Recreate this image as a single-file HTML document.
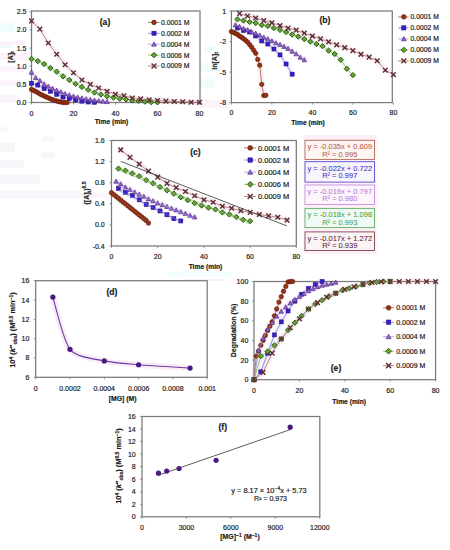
<!DOCTYPE html>
<html><head><meta charset="utf-8"><style>
html,body{margin:0;padding:0;background:#fff;}
svg{display:block;font-family:"Liberation Sans", sans-serif;}
</style></head><body>
<svg width="450" height="550" viewBox="0 0 450 550">
<rect width="450" height="550" fill="#fff"/>
<rect x="183" y="279" width="42" height="2" fill="#fbe6f4" opacity="0.55"/>
<rect x="168" y="272" width="64" height="4.5" fill="#e8fbfb" opacity="0.55"/>
<rect x="41" y="152" width="14" height="7" fill="#f4f0f6" opacity="0.55"/>
<rect x="43" y="136" width="12" height="6" fill="#f4f0f6" opacity="0.55"/>
<rect x="80" y="193" width="30" height="5" fill="#fbecf5" opacity="0.55"/>
<rect x="0" y="191" width="80" height="8" fill="#eef2f7" opacity="0.55"/>
<rect x="0" y="175" width="40" height="9" fill="#f0eff7" opacity="0.55"/>
<rect x="0" y="160" width="24" height="8" fill="#f2eff7" opacity="0.55"/>
<rect x="0" y="143" width="15" height="9" fill="#f4eef6" opacity="0.55"/>
<rect x="0" y="125" width="8" height="7" fill="#f0f4f8" opacity="0.55"/>
<rect x="200" y="100" width="30" height="8" fill="#fbeaf5" opacity="0.55"/>
<rect x="200" y="79" width="15" height="9" fill="#e6fafa" opacity="0.55"/>
<rect x="200" y="63" width="20" height="9" fill="#e6fafa" opacity="0.55"/>
<rect x="203" y="47" width="15" height="5" fill="#e4f9f9" opacity="0.55"/>
<rect x="0" y="95" width="20" height="8" fill="#fbeaf5" opacity="0.55"/>
<rect x="0" y="80" width="22" height="6" fill="#fbeaf5" opacity="0.55"/>
<rect x="0" y="66" width="24" height="6" fill="#fbeaf5" opacity="0.55"/>
<rect x="0" y="53" width="28" height="7" fill="#fbe8f4" opacity="0.55"/>
<rect x="0" y="45" width="12" height="3" fill="#dff8f8" opacity="0.55"/>
<rect x="0" y="41" width="25" height="4" fill="#fbe4f3" opacity="0.55"/>
<rect x="0" y="23" width="15" height="9" fill="#e6fafa" opacity="0.55"/>
<path d="M31.50,89.41 L33.60,90.42 L35.70,91.57 L37.80,92.61 L39.90,93.99 L42.00,95.02 L44.10,96.00 L46.20,96.96 L48.30,97.83 L50.40,98.86 L52.50,99.67 L54.60,100.40 L56.70,100.94 L58.80,101.65 L60.90,102.02 L63.00,102.43 L65.10,102.48 L67.20,102.47" fill="none" stroke="#f8e0ee" stroke-width="6" stroke-linejoin="round" stroke-linecap="round" opacity="0.5"/>
<path d="M31.50,83.26 L37.80,85.08 L44.10,88.71 L50.40,91.25 L56.70,94.33 L63.00,97.06 L69.30,98.58 L75.60,99.96 L81.90,101.16 L88.20,101.99 L94.50,102.30" fill="none" stroke="#ece6fa" stroke-width="6" stroke-linejoin="round" stroke-linecap="round" opacity="0.5"/>
<path d="M31.50,72.37 L35.70,77.82 L39.90,80.72 L44.10,83.99 L48.30,86.35 L52.50,88.52 L56.70,90.34 L60.90,91.97 L65.10,93.79 L69.30,95.06 L73.50,96.33 L77.70,97.27 L81.90,98.14 L86.10,98.98 L90.30,99.63 L94.50,100.29 L98.70,100.83 L102.90,101.34 L107.10,101.70" fill="none" stroke="#f4e4f6" stroke-width="6" stroke-linejoin="round" stroke-linecap="round" opacity="0.5"/>
<path d="M31.50,58.94 L37.80,61.12 L44.10,64.02 L50.40,68.02 L56.70,71.65 L63.00,76.36 L69.30,79.99 L75.60,83.81 L81.90,86.89 L88.20,89.80 L94.50,92.52 L100.80,94.51 L107.10,96.33 L113.40,97.60 L119.70,98.65 L126.00,99.38 L132.30,100.47 L138.60,101.05 L144.90,101.67 L151.20,102.16 L157.50,102.32" fill="none" stroke="#e4f6f0" stroke-width="6" stroke-linejoin="round" stroke-linecap="round" opacity="0.5"/>
<path d="M31.50,20.83 L39.90,29.17 L48.30,42.97 L56.70,54.22 L65.10,64.75 L73.50,72.73 L81.90,79.99 L90.30,84.35 L98.70,87.98 L107.10,91.43 L115.50,94.33 L123.90,95.78 L132.30,97.96 L140.70,98.87 L149.10,99.89 L157.50,100.47 L165.90,101.08 L174.30,101.45 L182.70,101.74 L191.10,102.21 L199.50,102.32" fill="none" stroke="#f8e4ee" stroke-width="6" stroke-linejoin="round" stroke-linecap="round" opacity="0.5"/>
<path d="M231.40,31.58 L233.43,32.40 L235.45,33.42 L237.47,34.44 L239.50,35.97 L241.53,37.29 L243.55,38.72 L245.58,40.35 L247.60,42.08 L249.62,44.63 L251.65,47.17 L253.68,50.23 L255.70,53.29 L257.73,59.40 L259.75,65.21 L261.77,84.37 L263.80,95.58 L265.82,95.27" fill="none" stroke="#f8e0ee" stroke-width="6" stroke-linejoin="round" stroke-linecap="round" opacity="0.5"/>
<path d="M237.47,28.02 L243.55,30.56 L249.62,31.99 L255.70,35.97 L261.77,40.96 L267.85,44.02 L273.93,49.01 L280.00,54.92 L286.07,63.99 L292.15,74.18" fill="none" stroke="#ece6fa" stroke-width="6" stroke-linejoin="round" stroke-linecap="round" opacity="0.5"/>
<path d="M235.45,24.96 L239.50,26.59 L243.55,28.63 L247.60,29.95 L251.65,31.99 L255.70,33.42 L259.75,35.35 L263.80,37.39 L267.85,39.02 L271.90,40.96 L275.95,43.00 L280.00,44.63 L284.05,46.56 L288.10,48.60 L292.15,51.35 L296.20,54.00 L300.25,57.36 L304.30,59.91" fill="none" stroke="#f4e4f6" stroke-width="6" stroke-linejoin="round" stroke-linecap="round" opacity="0.5"/>
<path d="M237.47,19.36 L243.55,20.58 L249.62,22.01 L255.70,23.02 L261.77,24.96 L267.85,25.98 L273.93,28.02 L280.00,29.95 L286.07,31.99 L292.15,34.54 L298.23,36.58 L304.30,39.02 L310.38,41.57 L316.45,44.02 L322.52,46.16 L328.60,50.64 L334.68,54.00 L340.75,59.81 L346.82,68.78 L352.90,75.10" fill="none" stroke="#e4f6f0" stroke-width="6" stroke-linejoin="round" stroke-linecap="round" opacity="0.5"/>
<path d="M239.50,13.65 L247.60,15.99 L255.70,18.03 L263.80,20.58 L271.90,22.82 L280.00,25.57 L288.10,28.12 L296.20,30.16 L304.30,33.11 L312.40,36.07 L320.50,38.92 L328.60,41.88 L336.70,44.83 L344.80,47.68 L352.90,50.64 L361.00,54.31 L369.10,57.16 L377.20,60.73 L385.30,70.20 L393.40,74.59" fill="none" stroke="#f8e4ee" stroke-width="6" stroke-linejoin="round" stroke-linecap="round" opacity="0.5"/>
<path d="M111.50,192.78 L113.81,194.62 L116.12,196.47 L118.43,198.31 L120.74,200.16 L123.05,202.01 L125.36,203.85 L127.67,205.70 L129.98,207.55 L132.29,209.39 L134.60,211.24 L136.91,213.08 L139.22,214.93 L141.53,216.78 L143.84,218.62 L146.15,220.47 L148.46,223.05" fill="none" stroke="#f8e0ee" stroke-width="6" stroke-linejoin="round" stroke-linecap="round" opacity="0.5"/>
<path d="M118.43,188.35 L125.36,192.38 L132.29,195.53 L139.22,199.88 L146.15,204.47 L153.08,207.56 L160.01,210.94 L166.94,214.75 L173.87,218.66 L180.80,220.95" fill="none" stroke="#ece6fa" stroke-width="6" stroke-linejoin="round" stroke-linecap="round" opacity="0.5"/>
<path d="M116.12,181.40 L120.74,184.04 L125.36,187.23 L129.98,189.71 L134.60,192.17 L139.22,194.37 L143.84,196.49 L148.46,199.06 L153.08,201.02 L157.70,203.15 L162.32,204.88 L166.94,206.63 L171.56,208.47 L176.18,210.07 L180.80,211.87 L185.42,213.59 L190.04,215.46 L194.66,217.08" fill="none" stroke="#f4e4f6" stroke-width="6" stroke-linejoin="round" stroke-linecap="round" opacity="0.5"/>
<path d="M118.43,168.58 L125.36,170.59 L132.29,173.49 L139.22,176.27 L146.15,180.14 L153.08,183.36 L160.01,187.04 L166.94,190.31 L173.87,193.69 L180.80,197.24 L187.73,200.16 L194.66,203.15 L201.59,205.52 L208.52,207.73 L215.45,209.43 L222.38,212.42 L229.31,214.35 L236.24,216.90 L243.17,219.79 L250.10,221.17" fill="none" stroke="#e4f6f0" stroke-width="6" stroke-linejoin="round" stroke-linecap="round" opacity="0.5"/>
<path d="M120.74,149.93 L129.98,157.35 L139.22,164.07 L148.46,171.11 L157.70,177.13 L166.94,183.36 L176.18,187.60 L185.42,191.54 L194.66,195.77 L203.90,199.88 L213.14,202.21 L222.38,206.25 L231.62,208.22 L240.86,210.75 L250.10,212.42 L259.34,214.48 L268.58,215.92 L277.82,217.26 L287.06,220.18" fill="none" stroke="#f8e4ee" stroke-width="6" stroke-linejoin="round" stroke-linecap="round" opacity="0.5"/>
<path d="M52.85,297.12 C55.14,304.08 63.14,340.79 70.00,349.29 C76.86,357.79 95.15,358.82 104.30,360.88 C113.45,362.94 127.17,363.78 138.60,364.74 C150.03,365.71 183.19,367.67 190.05,368.12" fill="none" stroke="#f8e4f4" stroke-width="6" stroke-linecap="round" opacity="0.7"/>
<path d="M254.00,379.70 L256.27,356.13 L258.54,351.22 L260.81,345.33 L263.08,340.42 L265.35,335.51 L267.62,330.60 L269.89,326.18 L272.16,321.76 L274.43,315.87 L276.70,309.00 L278.97,302.12 L281.24,296.72 L283.51,291.32 L285.78,286.41 L288.05,281.99 L290.32,281.50 L292.59,281.50" fill="none" stroke="#f8e0ee" stroke-width="6" stroke-linejoin="round" stroke-linecap="round" opacity="0.5"/>
<path d="M254.00,379.70 L260.81,371.84 L267.62,353.19 L274.43,334.92 L281.24,321.86 L288.05,310.96 L294.86,301.14 L301.67,294.27 L308.48,288.37 L315.29,284.45 L322.10,281.50" fill="none" stroke="#ece6fa" stroke-width="6" stroke-linejoin="round" stroke-linecap="round" opacity="0.5"/>
<path d="M254.00,379.70 L258.54,350.24 L263.08,338.46 L267.62,329.62 L272.16,322.74 L276.70,316.36 L281.24,311.45 L285.78,307.03 L290.32,303.10 L294.86,299.67 L299.40,296.72 L303.94,293.77 L308.48,290.83 L313.02,288.87 L317.56,286.90 L322.10,285.43 L326.64,284.45 L331.18,283.46 L335.72,282.48" fill="none" stroke="#f4e4f6" stroke-width="6" stroke-linejoin="round" stroke-linecap="round" opacity="0.5"/>
<path d="M254.00,379.70 L260.81,356.13 L267.62,351.52 L274.43,345.33 L281.24,338.95 L288.05,330.11 L294.86,322.74 L301.67,315.87 L308.48,309.00 L315.29,304.09 L322.10,300.16 L328.91,296.23 L335.72,293.28 L342.53,290.34 L349.34,288.37 L356.15,286.41 L362.96,284.45 L369.77,282.97 L376.58,281.99 L383.39,281.50 L390.20,281.50" fill="none" stroke="#e4f6f0" stroke-width="6" stroke-linejoin="round" stroke-linecap="round" opacity="0.5"/>
<path d="M254.00,379.70 L263.08,372.33 L272.16,353.19 L281.24,338.95 L290.32,327.65 L299.40,318.82 L308.48,309.00 L317.56,302.61 L326.64,297.21 L335.72,293.28 L344.80,289.36 L353.88,286.90 L362.96,284.45 L372.04,282.48 L381.12,281.79 L390.20,281.50 L399.28,281.50 L408.36,281.50 L417.44,281.50 L426.52,281.50 L435.60,281.50" fill="none" stroke="#f8e4ee" stroke-width="6" stroke-linejoin="round" stroke-linecap="round" opacity="0.5"/>
<rect x="31.50" y="11.00" width="168.50" height="91.50" fill="none" stroke="#7a7a7a" stroke-width="1.25"/>
<line x1="29.50" y1="102.50" x2="31.50" y2="102.50" stroke="#7a7a7a" stroke-width="0.8"/>
<text x="26.50" y="105.00" font-size="7" text-anchor="end" font-weight="normal" fill="#1a1a1a" stroke="#1a1a1a" stroke-width="0.18" >0.0</text>
<line x1="29.50" y1="84.35" x2="31.50" y2="84.35" stroke="#7a7a7a" stroke-width="0.8"/>
<text x="26.50" y="86.85" font-size="7" text-anchor="end" font-weight="normal" fill="#1a1a1a" stroke="#1a1a1a" stroke-width="0.18" >0.5</text>
<line x1="29.50" y1="66.20" x2="31.50" y2="66.20" stroke="#7a7a7a" stroke-width="0.8"/>
<text x="26.50" y="68.70" font-size="7" text-anchor="end" font-weight="normal" fill="#1a1a1a" stroke="#1a1a1a" stroke-width="0.18" >1.0</text>
<line x1="29.50" y1="48.05" x2="31.50" y2="48.05" stroke="#7a7a7a" stroke-width="0.8"/>
<text x="26.50" y="50.55" font-size="7" text-anchor="end" font-weight="normal" fill="#1a1a1a" stroke="#1a1a1a" stroke-width="0.18" >1.5</text>
<line x1="29.50" y1="29.90" x2="31.50" y2="29.90" stroke="#7a7a7a" stroke-width="0.8"/>
<text x="26.50" y="32.40" font-size="7" text-anchor="end" font-weight="normal" fill="#1a1a1a" stroke="#1a1a1a" stroke-width="0.18" >2.0</text>
<line x1="29.50" y1="11.75" x2="31.50" y2="11.75" stroke="#7a7a7a" stroke-width="0.8"/>
<text x="26.50" y="14.25" font-size="7" text-anchor="end" font-weight="normal" fill="#1a1a1a" stroke="#1a1a1a" stroke-width="0.18" >2.5</text>
<line x1="31.50" y1="102.50" x2="31.50" y2="104.50" stroke="#7a7a7a" stroke-width="0.8"/>
<text x="31.50" y="115.90" font-size="7" text-anchor="middle" font-weight="normal" fill="#1a1a1a" stroke="#1a1a1a" stroke-width="0.18" >0</text>
<line x1="73.50" y1="102.50" x2="73.50" y2="104.50" stroke="#7a7a7a" stroke-width="0.8"/>
<text x="73.50" y="115.90" font-size="7" text-anchor="middle" font-weight="normal" fill="#1a1a1a" stroke="#1a1a1a" stroke-width="0.18" >20</text>
<line x1="115.50" y1="102.50" x2="115.50" y2="104.50" stroke="#7a7a7a" stroke-width="0.8"/>
<text x="115.50" y="115.90" font-size="7" text-anchor="middle" font-weight="normal" fill="#1a1a1a" stroke="#1a1a1a" stroke-width="0.18" >40</text>
<line x1="157.50" y1="102.50" x2="157.50" y2="104.50" stroke="#7a7a7a" stroke-width="0.8"/>
<text x="157.50" y="115.90" font-size="7" text-anchor="middle" font-weight="normal" fill="#1a1a1a" stroke="#1a1a1a" stroke-width="0.18" >60</text>
<line x1="199.50" y1="102.50" x2="199.50" y2="104.50" stroke="#7a7a7a" stroke-width="0.8"/>
<text x="199.50" y="115.90" font-size="7" text-anchor="middle" font-weight="normal" fill="#1a1a1a" stroke="#1a1a1a" stroke-width="0.18" >80</text>
<text x="111.50" y="124.30" font-size="6.7" text-anchor="middle" font-weight="bold" fill="#1a1a1a" stroke="#1a1a1a" stroke-width="0.18" >Time (min)</text>
<text x="0" y="0" transform="translate(12.80,57.00) rotate(-90)" font-size="7" text-anchor="middle" font-weight="bold" fill="#1a1a1a" stroke="#1a1a1a" stroke-width="0.18">[A]<tspan font-size="5" dy="1.5">t</tspan></text>
<text x="105.00" y="24.80" font-size="8.6" text-anchor="middle" font-weight="bold" fill="#1a1a1a" stroke="#1a1a1a" stroke-width="0.18" >(a)</text>
<path d="M31.50,89.41 L33.60,90.42 L35.70,91.57 L37.80,92.61 L39.90,93.99 L42.00,95.02 L44.10,96.00 L46.20,96.96 L48.30,97.83 L50.40,98.86 L52.50,99.67 L54.60,100.40 L56.70,100.94 L58.80,101.65 L60.90,102.02 L63.00,102.43 L65.10,102.48 L67.20,102.47" fill="none" stroke="#9a6040" stroke-width="0.8"/>
<circle cx="31.50" cy="89.41" r="2.20" fill="#9a3214" stroke="#581a08" stroke-width="0.6"/>
<circle cx="33.60" cy="90.42" r="2.20" fill="#9a3214" stroke="#581a08" stroke-width="0.6"/>
<circle cx="35.70" cy="91.57" r="2.20" fill="#9a3214" stroke="#581a08" stroke-width="0.6"/>
<circle cx="37.80" cy="92.61" r="2.20" fill="#9a3214" stroke="#581a08" stroke-width="0.6"/>
<circle cx="39.90" cy="93.99" r="2.20" fill="#9a3214" stroke="#581a08" stroke-width="0.6"/>
<circle cx="42.00" cy="95.02" r="2.20" fill="#9a3214" stroke="#581a08" stroke-width="0.6"/>
<circle cx="44.10" cy="96.00" r="2.20" fill="#9a3214" stroke="#581a08" stroke-width="0.6"/>
<circle cx="46.20" cy="96.96" r="2.20" fill="#9a3214" stroke="#581a08" stroke-width="0.6"/>
<circle cx="48.30" cy="97.83" r="2.20" fill="#9a3214" stroke="#581a08" stroke-width="0.6"/>
<circle cx="50.40" cy="98.86" r="2.20" fill="#9a3214" stroke="#581a08" stroke-width="0.6"/>
<circle cx="52.50" cy="99.67" r="2.20" fill="#9a3214" stroke="#581a08" stroke-width="0.6"/>
<circle cx="54.60" cy="100.40" r="2.20" fill="#9a3214" stroke="#581a08" stroke-width="0.6"/>
<circle cx="56.70" cy="100.94" r="2.20" fill="#9a3214" stroke="#581a08" stroke-width="0.6"/>
<circle cx="58.80" cy="101.65" r="2.20" fill="#9a3214" stroke="#581a08" stroke-width="0.6"/>
<circle cx="60.90" cy="102.02" r="2.20" fill="#9a3214" stroke="#581a08" stroke-width="0.6"/>
<circle cx="63.00" cy="102.43" r="2.20" fill="#9a3214" stroke="#581a08" stroke-width="0.6"/>
<circle cx="65.10" cy="102.48" r="2.20" fill="#9a3214" stroke="#581a08" stroke-width="0.6"/>
<circle cx="67.20" cy="102.47" r="2.20" fill="#9a3214" stroke="#581a08" stroke-width="0.6"/>
<path d="M31.50,83.26 L37.80,85.08 L44.10,88.71 L50.40,91.25 L56.70,94.33 L63.00,97.06 L69.30,98.58 L75.60,99.96 L81.90,101.16 L88.20,101.99 L94.50,102.30" fill="none" stroke="#7a70e0" stroke-width="0.8"/>
<rect x="29.48" y="81.24" width="4.05" height="4.05" fill="#3a1ec8" stroke="#1e0c80" stroke-width="0.5"/>
<rect x="35.78" y="83.05" width="4.05" height="4.05" fill="#3a1ec8" stroke="#1e0c80" stroke-width="0.5"/>
<rect x="42.08" y="86.68" width="4.05" height="4.05" fill="#3a1ec8" stroke="#1e0c80" stroke-width="0.5"/>
<rect x="48.38" y="89.22" width="4.05" height="4.05" fill="#3a1ec8" stroke="#1e0c80" stroke-width="0.5"/>
<rect x="54.68" y="92.31" width="4.05" height="4.05" fill="#3a1ec8" stroke="#1e0c80" stroke-width="0.5"/>
<rect x="60.98" y="95.03" width="4.05" height="4.05" fill="#3a1ec8" stroke="#1e0c80" stroke-width="0.5"/>
<rect x="67.28" y="96.56" width="4.05" height="4.05" fill="#3a1ec8" stroke="#1e0c80" stroke-width="0.5"/>
<rect x="73.58" y="97.94" width="4.05" height="4.05" fill="#3a1ec8" stroke="#1e0c80" stroke-width="0.5"/>
<rect x="79.88" y="99.13" width="4.05" height="4.05" fill="#3a1ec8" stroke="#1e0c80" stroke-width="0.5"/>
<rect x="86.18" y="99.97" width="4.05" height="4.05" fill="#3a1ec8" stroke="#1e0c80" stroke-width="0.5"/>
<rect x="92.48" y="100.27" width="4.05" height="4.05" fill="#3a1ec8" stroke="#1e0c80" stroke-width="0.5"/>
<path d="M31.50,72.37 L35.70,77.82 L39.90,80.72 L44.10,83.99 L48.30,86.35 L52.50,88.52 L56.70,90.34 L60.90,91.97 L65.10,93.79 L69.30,95.06 L73.50,96.33 L77.70,97.27 L81.90,98.14 L86.10,98.98 L90.30,99.63 L94.50,100.29 L98.70,100.83 L102.90,101.34 L107.10,101.70" fill="none" stroke="#a890d8" stroke-width="0.8"/>
<polygon points="31.50,70.06 33.81,74.22 29.19,74.22" fill="#9068cc" stroke="#44207a" stroke-width="0.6"/>
<polygon points="35.70,75.51 38.01,79.66 33.39,79.66" fill="#9068cc" stroke="#44207a" stroke-width="0.6"/>
<polygon points="39.90,78.41 42.21,82.57 37.59,82.57" fill="#9068cc" stroke="#44207a" stroke-width="0.6"/>
<polygon points="44.10,81.68 46.41,85.83 41.79,85.83" fill="#9068cc" stroke="#44207a" stroke-width="0.6"/>
<polygon points="48.30,84.04 50.61,88.19 45.99,88.19" fill="#9068cc" stroke="#44207a" stroke-width="0.6"/>
<polygon points="52.50,86.21 54.81,90.37 50.19,90.37" fill="#9068cc" stroke="#44207a" stroke-width="0.6"/>
<polygon points="56.70,88.03 59.01,92.19 54.39,92.19" fill="#9068cc" stroke="#44207a" stroke-width="0.6"/>
<polygon points="60.90,89.66 63.21,93.82 58.59,93.82" fill="#9068cc" stroke="#44207a" stroke-width="0.6"/>
<polygon points="65.10,91.48 67.41,95.64 62.79,95.64" fill="#9068cc" stroke="#44207a" stroke-width="0.6"/>
<polygon points="69.30,92.75 71.61,96.91 66.99,96.91" fill="#9068cc" stroke="#44207a" stroke-width="0.6"/>
<polygon points="73.50,94.02 75.81,98.18 71.19,98.18" fill="#9068cc" stroke="#44207a" stroke-width="0.6"/>
<polygon points="77.70,94.96 80.01,99.12 75.39,99.12" fill="#9068cc" stroke="#44207a" stroke-width="0.6"/>
<polygon points="81.90,95.83 84.21,99.99 79.59,99.99" fill="#9068cc" stroke="#44207a" stroke-width="0.6"/>
<polygon points="86.10,96.67 88.41,100.83 83.79,100.83" fill="#9068cc" stroke="#44207a" stroke-width="0.6"/>
<polygon points="90.30,97.32 92.61,101.48 87.99,101.48" fill="#9068cc" stroke="#44207a" stroke-width="0.6"/>
<polygon points="94.50,97.98 96.81,102.13 92.19,102.13" fill="#9068cc" stroke="#44207a" stroke-width="0.6"/>
<polygon points="98.70,98.52 101.01,102.68 96.39,102.68" fill="#9068cc" stroke="#44207a" stroke-width="0.6"/>
<polygon points="102.90,99.03 105.21,103.19 100.59,103.19" fill="#9068cc" stroke="#44207a" stroke-width="0.6"/>
<polygon points="107.10,99.39 109.41,103.55 104.79,103.55" fill="#9068cc" stroke="#44207a" stroke-width="0.6"/>
<path d="M31.50,58.94 L37.80,61.12 L44.10,64.02 L50.40,68.02 L56.70,71.65 L63.00,76.36 L69.30,79.99 L75.60,83.81 L81.90,86.89 L88.20,89.80 L94.50,92.52 L100.80,94.51 L107.10,96.33 L113.40,97.60 L119.70,98.65 L126.00,99.38 L132.30,100.47 L138.60,101.05 L144.90,101.67 L151.20,102.16 L157.50,102.32" fill="none" stroke="#80b050" stroke-width="0.8"/>
<polygon points="31.50,56.30 34.14,58.94 31.50,61.58 28.86,58.94" fill="#62a830" stroke="#2a4a10" stroke-width="0.9"/>
<polygon points="37.80,58.48 40.44,61.12 37.80,63.76 35.16,61.12" fill="#62a830" stroke="#2a4a10" stroke-width="0.9"/>
<polygon points="44.10,61.38 46.74,64.02 44.10,66.66 41.46,64.02" fill="#62a830" stroke="#2a4a10" stroke-width="0.9"/>
<polygon points="50.40,65.38 53.04,68.02 50.40,70.66 47.76,68.02" fill="#62a830" stroke="#2a4a10" stroke-width="0.9"/>
<polygon points="56.70,69.01 59.34,71.65 56.70,74.29 54.06,71.65" fill="#62a830" stroke="#2a4a10" stroke-width="0.9"/>
<polygon points="63.00,73.72 65.64,76.36 63.00,79.00 60.36,76.36" fill="#62a830" stroke="#2a4a10" stroke-width="0.9"/>
<polygon points="69.30,77.35 71.94,79.99 69.30,82.63 66.66,79.99" fill="#62a830" stroke="#2a4a10" stroke-width="0.9"/>
<polygon points="75.60,81.17 78.24,83.81 75.60,86.45 72.96,83.81" fill="#62a830" stroke="#2a4a10" stroke-width="0.9"/>
<polygon points="81.90,84.25 84.54,86.89 81.90,89.53 79.26,86.89" fill="#62a830" stroke="#2a4a10" stroke-width="0.9"/>
<polygon points="88.20,87.16 90.84,89.80 88.20,92.44 85.56,89.80" fill="#62a830" stroke="#2a4a10" stroke-width="0.9"/>
<polygon points="94.50,89.88 97.14,92.52 94.50,95.16 91.86,92.52" fill="#62a830" stroke="#2a4a10" stroke-width="0.9"/>
<polygon points="100.80,91.87 103.44,94.51 100.80,97.15 98.16,94.51" fill="#62a830" stroke="#2a4a10" stroke-width="0.9"/>
<polygon points="107.10,93.69 109.74,96.33 107.10,98.97 104.46,96.33" fill="#62a830" stroke="#2a4a10" stroke-width="0.9"/>
<polygon points="113.40,94.96 116.04,97.60 113.40,100.24 110.76,97.60" fill="#62a830" stroke="#2a4a10" stroke-width="0.9"/>
<polygon points="119.70,96.01 122.34,98.65 119.70,101.29 117.06,98.65" fill="#62a830" stroke="#2a4a10" stroke-width="0.9"/>
<polygon points="126.00,96.74 128.64,99.38 126.00,102.02 123.36,99.38" fill="#62a830" stroke="#2a4a10" stroke-width="0.9"/>
<polygon points="132.30,97.83 134.94,100.47 132.30,103.11 129.66,100.47" fill="#62a830" stroke="#2a4a10" stroke-width="0.9"/>
<polygon points="138.60,98.41 141.24,101.05 138.60,103.69 135.96,101.05" fill="#62a830" stroke="#2a4a10" stroke-width="0.9"/>
<polygon points="144.90,99.03 147.54,101.67 144.90,104.31 142.26,101.67" fill="#62a830" stroke="#2a4a10" stroke-width="0.9"/>
<polygon points="151.20,99.52 153.84,102.16 151.20,104.80 148.56,102.16" fill="#62a830" stroke="#2a4a10" stroke-width="0.9"/>
<polygon points="157.50,99.68 160.14,102.32 157.50,104.96 154.86,102.32" fill="#62a830" stroke="#2a4a10" stroke-width="0.9"/>
<path d="M31.50,20.83 L39.90,29.17 L48.30,42.97 L56.70,54.22 L65.10,64.75 L73.50,72.73 L81.90,79.99 L90.30,84.35 L98.70,87.98 L107.10,91.43 L115.50,94.33 L123.90,95.78 L132.30,97.96 L140.70,98.87 L149.10,99.89 L157.50,100.47 L165.90,101.08 L174.30,101.45 L182.70,101.74 L191.10,102.21 L199.50,102.32" fill="none" stroke="#a07070" stroke-width="0.8"/>
<path d="M29.19,18.52L33.81,23.14M33.81,18.52L29.19,23.14" stroke="#603030" stroke-width="1.45" fill="none"/>
<path d="M37.59,26.86L42.21,31.48M42.21,26.86L37.59,31.48" stroke="#603030" stroke-width="1.45" fill="none"/>
<path d="M45.99,40.66L50.61,45.28M50.61,40.66L45.99,45.28" stroke="#603030" stroke-width="1.45" fill="none"/>
<path d="M54.39,51.91L59.01,56.53M59.01,51.91L54.39,56.53" stroke="#603030" stroke-width="1.45" fill="none"/>
<path d="M62.79,62.44L67.41,67.06M67.41,62.44L62.79,67.06" stroke="#603030" stroke-width="1.45" fill="none"/>
<path d="M71.19,70.42L75.81,75.04M75.81,70.42L71.19,75.04" stroke="#603030" stroke-width="1.45" fill="none"/>
<path d="M79.59,77.68L84.21,82.30M84.21,77.68L79.59,82.30" stroke="#603030" stroke-width="1.45" fill="none"/>
<path d="M87.99,82.04L92.61,86.66M92.61,82.04L87.99,86.66" stroke="#603030" stroke-width="1.45" fill="none"/>
<path d="M96.39,85.67L101.01,90.29M101.01,85.67L96.39,90.29" stroke="#603030" stroke-width="1.45" fill="none"/>
<path d="M104.79,89.12L109.41,93.74M109.41,89.12L104.79,93.74" stroke="#603030" stroke-width="1.45" fill="none"/>
<path d="M113.19,92.02L117.81,96.64M117.81,92.02L113.19,96.64" stroke="#603030" stroke-width="1.45" fill="none"/>
<path d="M121.59,93.47L126.21,98.09M126.21,93.47L121.59,98.09" stroke="#603030" stroke-width="1.45" fill="none"/>
<path d="M129.99,95.65L134.61,100.27M134.61,95.65L129.99,100.27" stroke="#603030" stroke-width="1.45" fill="none"/>
<path d="M138.39,96.56L143.01,101.18M143.01,96.56L138.39,101.18" stroke="#603030" stroke-width="1.45" fill="none"/>
<path d="M146.79,97.58L151.41,102.20M151.41,97.58L146.79,102.20" stroke="#603030" stroke-width="1.45" fill="none"/>
<path d="M155.19,98.16L159.81,102.78M159.81,98.16L155.19,102.78" stroke="#603030" stroke-width="1.45" fill="none"/>
<path d="M163.59,98.77L168.21,103.39M168.21,98.77L163.59,103.39" stroke="#603030" stroke-width="1.45" fill="none"/>
<path d="M171.99,99.14L176.61,103.76M176.61,99.14L171.99,103.76" stroke="#603030" stroke-width="1.45" fill="none"/>
<path d="M180.39,99.43L185.01,104.05M185.01,99.43L180.39,104.05" stroke="#603030" stroke-width="1.45" fill="none"/>
<path d="M188.79,99.90L193.41,104.52M193.41,99.90L188.79,104.52" stroke="#603030" stroke-width="1.45" fill="none"/>
<path d="M197.19,100.01L201.81,104.63M201.81,100.01L197.19,104.63" stroke="#603030" stroke-width="1.45" fill="none"/>
<line x1="148.00" y1="22.40" x2="159.50" y2="22.40" stroke="#9a6040" stroke-width="0.8"/>
<circle cx="154.00" cy="22.40" r="2.30" fill="#9a3214" stroke="#581a08" stroke-width="0.6"/>
<text x="161.00" y="24.85" font-size="6.8" text-anchor="start" font-weight="normal" fill="#1a1a1a" stroke="#1a1a1a" stroke-width="0.18" >0.0001 M</text>
<line x1="148.00" y1="33.30" x2="159.50" y2="33.30" stroke="#7a70e0" stroke-width="0.8"/>
<rect x="151.88" y="31.18" width="4.23" height="4.23" fill="#3a1ec8" stroke="#1e0c80" stroke-width="0.5"/>
<text x="161.00" y="35.75" font-size="6.8" text-anchor="start" font-weight="normal" fill="#1a1a1a" stroke="#1a1a1a" stroke-width="0.18" >0.0002 M</text>
<line x1="148.00" y1="44.20" x2="159.50" y2="44.20" stroke="#a890d8" stroke-width="0.8"/>
<polygon points="154.00,41.79 156.41,46.13 151.59,46.13" fill="#9068cc" stroke="#44207a" stroke-width="0.6"/>
<text x="161.00" y="46.65" font-size="6.8" text-anchor="start" font-weight="normal" fill="#1a1a1a" stroke="#1a1a1a" stroke-width="0.18" >0.0004 M</text>
<line x1="148.00" y1="55.10" x2="159.50" y2="55.10" stroke="#80b050" stroke-width="0.8"/>
<polygon points="154.00,52.34 156.76,55.10 154.00,57.86 151.24,55.10" fill="#62a830" stroke="#2a4a10" stroke-width="0.9"/>
<text x="161.00" y="57.55" font-size="6.8" text-anchor="start" font-weight="normal" fill="#1a1a1a" stroke="#1a1a1a" stroke-width="0.18" >0.0006 M</text>
<line x1="148.00" y1="66.00" x2="159.50" y2="66.00" stroke="#a07070" stroke-width="0.8"/>
<path d="M151.59,63.59L156.41,68.42M156.41,63.59L151.59,68.42" stroke="#603030" stroke-width="1.45" fill="none"/>
<text x="161.00" y="68.45" font-size="6.8" text-anchor="start" font-weight="normal" fill="#1a1a1a" stroke="#1a1a1a" stroke-width="0.18" >0.0009 M</text>
<rect x="231.40" y="11.00" width="160.90" height="91.60" fill="none" stroke="#7a7a7a" stroke-width="1.25"/>
<line x1="229.40" y1="11.00" x2="231.40" y2="11.00" stroke="#7a7a7a" stroke-width="0.8"/>
<text x="226.10" y="13.50" font-size="7" text-anchor="end" font-weight="normal" fill="#1a1a1a" stroke="#1a1a1a" stroke-width="0.18" >1</text>
<line x1="229.40" y1="41.57" x2="231.40" y2="41.57" stroke="#7a7a7a" stroke-width="0.8"/>
<text x="226.10" y="44.07" font-size="7" text-anchor="end" font-weight="normal" fill="#1a1a1a" stroke="#1a1a1a" stroke-width="0.18" >-2</text>
<line x1="229.40" y1="72.14" x2="231.40" y2="72.14" stroke="#7a7a7a" stroke-width="0.8"/>
<text x="226.10" y="74.64" font-size="7" text-anchor="end" font-weight="normal" fill="#1a1a1a" stroke="#1a1a1a" stroke-width="0.18" >-5</text>
<line x1="229.40" y1="102.71" x2="231.40" y2="102.71" stroke="#7a7a7a" stroke-width="0.8"/>
<text x="226.10" y="105.21" font-size="7" text-anchor="end" font-weight="normal" fill="#1a1a1a" stroke="#1a1a1a" stroke-width="0.18" >-8</text>
<line x1="231.40" y1="102.60" x2="231.40" y2="104.60" stroke="#7a7a7a" stroke-width="0.8"/>
<text x="231.40" y="115.30" font-size="7" text-anchor="middle" font-weight="normal" fill="#1a1a1a" stroke="#1a1a1a" stroke-width="0.18" >0</text>
<line x1="271.90" y1="102.60" x2="271.90" y2="104.60" stroke="#7a7a7a" stroke-width="0.8"/>
<text x="271.90" y="115.30" font-size="7" text-anchor="middle" font-weight="normal" fill="#1a1a1a" stroke="#1a1a1a" stroke-width="0.18" >20</text>
<line x1="312.40" y1="102.60" x2="312.40" y2="104.60" stroke="#7a7a7a" stroke-width="0.8"/>
<text x="312.40" y="115.30" font-size="7" text-anchor="middle" font-weight="normal" fill="#1a1a1a" stroke="#1a1a1a" stroke-width="0.18" >40</text>
<line x1="352.90" y1="102.60" x2="352.90" y2="104.60" stroke="#7a7a7a" stroke-width="0.8"/>
<text x="352.90" y="115.30" font-size="7" text-anchor="middle" font-weight="normal" fill="#1a1a1a" stroke="#1a1a1a" stroke-width="0.18" >60</text>
<line x1="393.40" y1="102.60" x2="393.40" y2="104.60" stroke="#7a7a7a" stroke-width="0.8"/>
<text x="393.40" y="115.30" font-size="7" text-anchor="middle" font-weight="normal" fill="#1a1a1a" stroke="#1a1a1a" stroke-width="0.18" >80</text>
<text x="308.00" y="125.20" font-size="6.7" text-anchor="middle" font-weight="bold" fill="#1a1a1a" stroke="#1a1a1a" stroke-width="0.18" >Time (min)</text>
<text x="0" y="0" transform="translate(216.50,61.00) rotate(-90)" font-size="7" text-anchor="middle" font-weight="bold" fill="#1a1a1a" stroke="#1a1a1a" stroke-width="0.18">ln[A]<tspan font-size="5" dy="1.5">t</tspan></text>
<text x="325.00" y="22.50" font-size="8.6" text-anchor="middle" font-weight="bold" fill="#1a1a1a" stroke="#1a1a1a" stroke-width="0.18" >(b)</text>
<path d="M231.40,31.58 L233.43,32.40 L235.45,33.42 L237.47,34.44 L239.50,35.97 L241.53,37.29 L243.55,38.72 L245.58,40.35 L247.60,42.08 L249.62,44.63 L251.65,47.17 L253.68,50.23 L255.70,53.29 L257.73,59.40 L259.75,65.21 L261.77,84.37 L263.80,95.58 L265.82,95.27" fill="none" stroke="#9a6040" stroke-width="0.8"/>
<circle cx="231.40" cy="31.58" r="2.20" fill="#9a3214" stroke="#581a08" stroke-width="0.6"/>
<circle cx="233.43" cy="32.40" r="2.20" fill="#9a3214" stroke="#581a08" stroke-width="0.6"/>
<circle cx="235.45" cy="33.42" r="2.20" fill="#9a3214" stroke="#581a08" stroke-width="0.6"/>
<circle cx="237.47" cy="34.44" r="2.20" fill="#9a3214" stroke="#581a08" stroke-width="0.6"/>
<circle cx="239.50" cy="35.97" r="2.20" fill="#9a3214" stroke="#581a08" stroke-width="0.6"/>
<circle cx="241.53" cy="37.29" r="2.20" fill="#9a3214" stroke="#581a08" stroke-width="0.6"/>
<circle cx="243.55" cy="38.72" r="2.20" fill="#9a3214" stroke="#581a08" stroke-width="0.6"/>
<circle cx="245.58" cy="40.35" r="2.20" fill="#9a3214" stroke="#581a08" stroke-width="0.6"/>
<circle cx="247.60" cy="42.08" r="2.20" fill="#9a3214" stroke="#581a08" stroke-width="0.6"/>
<circle cx="249.62" cy="44.63" r="2.20" fill="#9a3214" stroke="#581a08" stroke-width="0.6"/>
<circle cx="251.65" cy="47.17" r="2.20" fill="#9a3214" stroke="#581a08" stroke-width="0.6"/>
<circle cx="253.68" cy="50.23" r="2.20" fill="#9a3214" stroke="#581a08" stroke-width="0.6"/>
<circle cx="255.70" cy="53.29" r="2.20" fill="#9a3214" stroke="#581a08" stroke-width="0.6"/>
<circle cx="257.73" cy="59.40" r="2.20" fill="#9a3214" stroke="#581a08" stroke-width="0.6"/>
<circle cx="259.75" cy="65.21" r="2.20" fill="#9a3214" stroke="#581a08" stroke-width="0.6"/>
<circle cx="261.77" cy="84.37" r="2.20" fill="#9a3214" stroke="#581a08" stroke-width="0.6"/>
<circle cx="263.80" cy="95.58" r="2.20" fill="#9a3214" stroke="#581a08" stroke-width="0.6"/>
<circle cx="265.82" cy="95.27" r="2.20" fill="#9a3214" stroke="#581a08" stroke-width="0.6"/>
<path d="M237.47,28.02 L243.55,30.56 L249.62,31.99 L255.70,35.97 L261.77,40.96 L267.85,44.02 L273.93,49.01 L280.00,54.92 L286.07,63.99 L292.15,74.18" fill="none" stroke="#7a70e0" stroke-width="0.8"/>
<rect x="235.45" y="25.99" width="4.05" height="4.05" fill="#3a1ec8" stroke="#1e0c80" stroke-width="0.5"/>
<rect x="241.53" y="28.54" width="4.05" height="4.05" fill="#3a1ec8" stroke="#1e0c80" stroke-width="0.5"/>
<rect x="247.60" y="29.97" width="4.05" height="4.05" fill="#3a1ec8" stroke="#1e0c80" stroke-width="0.5"/>
<rect x="253.68" y="33.94" width="4.05" height="4.05" fill="#3a1ec8" stroke="#1e0c80" stroke-width="0.5"/>
<rect x="259.75" y="38.93" width="4.05" height="4.05" fill="#3a1ec8" stroke="#1e0c80" stroke-width="0.5"/>
<rect x="265.83" y="41.99" width="4.05" height="4.05" fill="#3a1ec8" stroke="#1e0c80" stroke-width="0.5"/>
<rect x="271.90" y="46.98" width="4.05" height="4.05" fill="#3a1ec8" stroke="#1e0c80" stroke-width="0.5"/>
<rect x="277.98" y="52.89" width="4.05" height="4.05" fill="#3a1ec8" stroke="#1e0c80" stroke-width="0.5"/>
<rect x="284.05" y="61.96" width="4.05" height="4.05" fill="#3a1ec8" stroke="#1e0c80" stroke-width="0.5"/>
<rect x="290.13" y="72.15" width="4.05" height="4.05" fill="#3a1ec8" stroke="#1e0c80" stroke-width="0.5"/>
<path d="M235.45,24.96 L239.50,26.59 L243.55,28.63 L247.60,29.95 L251.65,31.99 L255.70,33.42 L259.75,35.35 L263.80,37.39 L267.85,39.02 L271.90,40.96 L275.95,43.00 L280.00,44.63 L284.05,46.56 L288.10,48.60 L292.15,51.35 L296.20,54.00 L300.25,57.36 L304.30,59.91" fill="none" stroke="#a890d8" stroke-width="0.8"/>
<polygon points="235.45,22.65 237.76,26.81 233.14,26.81" fill="#9068cc" stroke="#44207a" stroke-width="0.6"/>
<polygon points="239.50,24.28 241.81,28.44 237.19,28.44" fill="#9068cc" stroke="#44207a" stroke-width="0.6"/>
<polygon points="243.55,26.32 245.86,30.48 241.24,30.48" fill="#9068cc" stroke="#44207a" stroke-width="0.6"/>
<polygon points="247.60,27.64 249.91,31.80 245.29,31.80" fill="#9068cc" stroke="#44207a" stroke-width="0.6"/>
<polygon points="251.65,29.68 253.96,33.84 249.34,33.84" fill="#9068cc" stroke="#44207a" stroke-width="0.6"/>
<polygon points="255.70,31.11 258.01,35.27 253.39,35.27" fill="#9068cc" stroke="#44207a" stroke-width="0.6"/>
<polygon points="259.75,33.04 262.06,37.20 257.44,37.20" fill="#9068cc" stroke="#44207a" stroke-width="0.6"/>
<polygon points="263.80,35.08 266.11,39.24 261.49,39.24" fill="#9068cc" stroke="#44207a" stroke-width="0.6"/>
<polygon points="267.85,36.71 270.16,40.87 265.54,40.87" fill="#9068cc" stroke="#44207a" stroke-width="0.6"/>
<polygon points="271.90,38.65 274.21,42.81 269.59,42.81" fill="#9068cc" stroke="#44207a" stroke-width="0.6"/>
<polygon points="275.95,40.69 278.26,44.84 273.64,44.84" fill="#9068cc" stroke="#44207a" stroke-width="0.6"/>
<polygon points="280.00,42.32 282.31,46.47 277.69,46.47" fill="#9068cc" stroke="#44207a" stroke-width="0.6"/>
<polygon points="284.05,44.25 286.36,48.41 281.74,48.41" fill="#9068cc" stroke="#44207a" stroke-width="0.6"/>
<polygon points="288.10,46.29 290.41,50.45 285.79,50.45" fill="#9068cc" stroke="#44207a" stroke-width="0.6"/>
<polygon points="292.15,49.04 294.46,53.20 289.84,53.20" fill="#9068cc" stroke="#44207a" stroke-width="0.6"/>
<polygon points="296.20,51.69 298.51,55.85 293.89,55.85" fill="#9068cc" stroke="#44207a" stroke-width="0.6"/>
<polygon points="300.25,55.05 302.56,59.21 297.94,59.21" fill="#9068cc" stroke="#44207a" stroke-width="0.6"/>
<polygon points="304.30,57.60 306.61,61.76 301.99,61.76" fill="#9068cc" stroke="#44207a" stroke-width="0.6"/>
<path d="M237.47,19.36 L243.55,20.58 L249.62,22.01 L255.70,23.02 L261.77,24.96 L267.85,25.98 L273.93,28.02 L280.00,29.95 L286.07,31.99 L292.15,34.54 L298.23,36.58 L304.30,39.02 L310.38,41.57 L316.45,44.02 L322.52,46.16 L328.60,50.64 L334.68,54.00 L340.75,59.81 L346.82,68.78 L352.90,75.10" fill="none" stroke="#80b050" stroke-width="0.8"/>
<polygon points="237.47,16.72 240.11,19.36 237.47,22.00 234.84,19.36" fill="#62a830" stroke="#2a4a10" stroke-width="0.9"/>
<polygon points="243.55,17.94 246.19,20.58 243.55,23.22 240.91,20.58" fill="#62a830" stroke="#2a4a10" stroke-width="0.9"/>
<polygon points="249.62,19.37 252.26,22.01 249.62,24.65 246.99,22.01" fill="#62a830" stroke="#2a4a10" stroke-width="0.9"/>
<polygon points="255.70,20.38 258.34,23.02 255.70,25.66 253.06,23.02" fill="#62a830" stroke="#2a4a10" stroke-width="0.9"/>
<polygon points="261.77,22.32 264.41,24.96 261.77,27.60 259.13,24.96" fill="#62a830" stroke="#2a4a10" stroke-width="0.9"/>
<polygon points="267.85,23.34 270.49,25.98 267.85,28.62 265.21,25.98" fill="#62a830" stroke="#2a4a10" stroke-width="0.9"/>
<polygon points="273.93,25.38 276.56,28.02 273.93,30.66 271.29,28.02" fill="#62a830" stroke="#2a4a10" stroke-width="0.9"/>
<polygon points="280.00,27.31 282.64,29.95 280.00,32.59 277.36,29.95" fill="#62a830" stroke="#2a4a10" stroke-width="0.9"/>
<polygon points="286.07,29.35 288.71,31.99 286.07,34.63 283.44,31.99" fill="#62a830" stroke="#2a4a10" stroke-width="0.9"/>
<polygon points="292.15,31.90 294.79,34.54 292.15,37.18 289.51,34.54" fill="#62a830" stroke="#2a4a10" stroke-width="0.9"/>
<polygon points="298.23,33.94 300.87,36.58 298.23,39.22 295.59,36.58" fill="#62a830" stroke="#2a4a10" stroke-width="0.9"/>
<polygon points="304.30,36.38 306.94,39.02 304.30,41.66 301.66,39.02" fill="#62a830" stroke="#2a4a10" stroke-width="0.9"/>
<polygon points="310.38,38.93 313.01,41.57 310.38,44.21 307.74,41.57" fill="#62a830" stroke="#2a4a10" stroke-width="0.9"/>
<polygon points="316.45,41.38 319.09,44.02 316.45,46.66 313.81,44.02" fill="#62a830" stroke="#2a4a10" stroke-width="0.9"/>
<polygon points="322.52,43.52 325.16,46.16 322.52,48.80 319.88,46.16" fill="#62a830" stroke="#2a4a10" stroke-width="0.9"/>
<polygon points="328.60,48.00 331.24,50.64 328.60,53.28 325.96,50.64" fill="#62a830" stroke="#2a4a10" stroke-width="0.9"/>
<polygon points="334.68,51.36 337.31,54.00 334.68,56.64 332.04,54.00" fill="#62a830" stroke="#2a4a10" stroke-width="0.9"/>
<polygon points="340.75,57.17 343.39,59.81 340.75,62.45 338.11,59.81" fill="#62a830" stroke="#2a4a10" stroke-width="0.9"/>
<polygon points="346.82,66.14 349.46,68.78 346.82,71.42 344.19,68.78" fill="#62a830" stroke="#2a4a10" stroke-width="0.9"/>
<polygon points="352.90,72.46 355.54,75.10 352.90,77.74 350.26,75.10" fill="#62a830" stroke="#2a4a10" stroke-width="0.9"/>
<path d="M239.50,13.65 L247.60,15.99 L255.70,18.03 L263.80,20.58 L271.90,22.82 L280.00,25.57 L288.10,28.12 L296.20,30.16 L304.30,33.11 L312.40,36.07 L320.50,38.92 L328.60,41.88 L336.70,44.83 L344.80,47.68 L352.90,50.64 L361.00,54.31 L369.10,57.16 L377.20,60.73 L385.30,70.20 L393.40,74.59" fill="none" stroke="#a07070" stroke-width="0.8"/>
<path d="M237.19,11.34L241.81,15.96M241.81,11.34L237.19,15.96" stroke="#603030" stroke-width="1.45" fill="none"/>
<path d="M245.29,13.68L249.91,18.30M249.91,13.68L245.29,18.30" stroke="#603030" stroke-width="1.45" fill="none"/>
<path d="M253.39,15.72L258.01,20.34M258.01,15.72L253.39,20.34" stroke="#603030" stroke-width="1.45" fill="none"/>
<path d="M261.49,18.27L266.11,22.89M266.11,18.27L261.49,22.89" stroke="#603030" stroke-width="1.45" fill="none"/>
<path d="M269.59,20.51L274.21,25.13M274.21,20.51L269.59,25.13" stroke="#603030" stroke-width="1.45" fill="none"/>
<path d="M277.69,23.26L282.31,27.88M282.31,23.26L277.69,27.88" stroke="#603030" stroke-width="1.45" fill="none"/>
<path d="M285.79,25.81L290.41,30.43M290.41,25.81L285.79,30.43" stroke="#603030" stroke-width="1.45" fill="none"/>
<path d="M293.89,27.85L298.51,32.47M298.51,27.85L293.89,32.47" stroke="#603030" stroke-width="1.45" fill="none"/>
<path d="M301.99,30.80L306.61,35.42M306.61,30.80L301.99,35.42" stroke="#603030" stroke-width="1.45" fill="none"/>
<path d="M310.09,33.76L314.71,38.38M314.71,33.76L310.09,38.38" stroke="#603030" stroke-width="1.45" fill="none"/>
<path d="M318.19,36.61L322.81,41.23M322.81,36.61L318.19,41.23" stroke="#603030" stroke-width="1.45" fill="none"/>
<path d="M326.29,39.57L330.91,44.19M330.91,39.57L326.29,44.19" stroke="#603030" stroke-width="1.45" fill="none"/>
<path d="M334.39,42.52L339.01,47.14M339.01,42.52L334.39,47.14" stroke="#603030" stroke-width="1.45" fill="none"/>
<path d="M342.49,45.37L347.11,49.99M347.11,45.37L342.49,49.99" stroke="#603030" stroke-width="1.45" fill="none"/>
<path d="M350.59,48.33L355.21,52.95M355.21,48.33L350.59,52.95" stroke="#603030" stroke-width="1.45" fill="none"/>
<path d="M358.69,52.00L363.31,56.62M363.31,52.00L358.69,56.62" stroke="#603030" stroke-width="1.45" fill="none"/>
<path d="M366.79,54.85L371.41,59.47M371.41,54.85L366.79,59.47" stroke="#603030" stroke-width="1.45" fill="none"/>
<path d="M374.89,58.42L379.51,63.04M379.51,58.42L374.89,63.04" stroke="#603030" stroke-width="1.45" fill="none"/>
<path d="M382.99,67.89L387.61,72.51M387.61,67.89L382.99,72.51" stroke="#603030" stroke-width="1.45" fill="none"/>
<path d="M391.09,72.28L395.71,76.90M395.71,72.28L391.09,76.90" stroke="#603030" stroke-width="1.45" fill="none"/>
<line x1="398.00" y1="16.90" x2="408.50" y2="16.90" stroke="#9a6040" stroke-width="0.8"/>
<circle cx="403.80" cy="16.90" r="2.30" fill="#9a3214" stroke="#581a08" stroke-width="0.6"/>
<text x="410.50" y="19.35" font-size="6.8" text-anchor="start" font-weight="normal" fill="#1a1a1a" stroke="#1a1a1a" stroke-width="0.18" >0.0001 M</text>
<line x1="398.00" y1="27.90" x2="408.50" y2="27.90" stroke="#7a70e0" stroke-width="0.8"/>
<rect x="401.68" y="25.78" width="4.23" height="4.23" fill="#3a1ec8" stroke="#1e0c80" stroke-width="0.5"/>
<text x="410.50" y="30.35" font-size="6.8" text-anchor="start" font-weight="normal" fill="#1a1a1a" stroke="#1a1a1a" stroke-width="0.18" >0.0002 M</text>
<line x1="398.00" y1="38.90" x2="408.50" y2="38.90" stroke="#a890d8" stroke-width="0.8"/>
<polygon points="403.80,36.48 406.22,40.83 401.38,40.83" fill="#9068cc" stroke="#44207a" stroke-width="0.6"/>
<text x="410.50" y="41.35" font-size="6.8" text-anchor="start" font-weight="normal" fill="#1a1a1a" stroke="#1a1a1a" stroke-width="0.18" >0.0004 M</text>
<line x1="398.00" y1="49.90" x2="408.50" y2="49.90" stroke="#80b050" stroke-width="0.8"/>
<polygon points="403.80,47.14 406.56,49.90 403.80,52.66 401.04,49.90" fill="#62a830" stroke="#2a4a10" stroke-width="0.9"/>
<text x="410.50" y="52.35" font-size="6.8" text-anchor="start" font-weight="normal" fill="#1a1a1a" stroke="#1a1a1a" stroke-width="0.18" >0.0006 M</text>
<line x1="398.00" y1="60.90" x2="408.50" y2="60.90" stroke="#a07070" stroke-width="0.8"/>
<path d="M401.38,58.48L406.22,63.31M406.22,58.48L401.38,63.31" stroke="#603030" stroke-width="1.45" fill="none"/>
<text x="410.50" y="63.35" font-size="6.8" text-anchor="start" font-weight="normal" fill="#1a1a1a" stroke="#1a1a1a" stroke-width="0.18" >0.0009 M</text>
<rect x="111.50" y="140.50" width="184.80" height="105.50" fill="none" stroke="#7a7a7a" stroke-width="1.25"/>
<line x1="109.50" y1="140.50" x2="111.50" y2="140.50" stroke="#7a7a7a" stroke-width="0.8"/>
<text x="104.70" y="143.00" font-size="7" text-anchor="end" font-weight="normal" fill="#1a1a1a" stroke="#1a1a1a" stroke-width="0.18" >1.6</text>
<line x1="109.50" y1="161.60" x2="111.50" y2="161.60" stroke="#7a7a7a" stroke-width="0.8"/>
<text x="104.70" y="164.10" font-size="7" text-anchor="end" font-weight="normal" fill="#1a1a1a" stroke="#1a1a1a" stroke-width="0.18" >1.2</text>
<line x1="109.50" y1="182.70" x2="111.50" y2="182.70" stroke="#7a7a7a" stroke-width="0.8"/>
<text x="104.70" y="185.20" font-size="7" text-anchor="end" font-weight="normal" fill="#1a1a1a" stroke="#1a1a1a" stroke-width="0.18" >0.8</text>
<line x1="109.50" y1="203.80" x2="111.50" y2="203.80" stroke="#7a7a7a" stroke-width="0.8"/>
<text x="104.70" y="206.30" font-size="7" text-anchor="end" font-weight="normal" fill="#1a1a1a" stroke="#1a1a1a" stroke-width="0.18" >0.4</text>
<line x1="109.50" y1="224.90" x2="111.50" y2="224.90" stroke="#7a7a7a" stroke-width="0.8"/>
<text x="104.70" y="227.40" font-size="7" text-anchor="end" font-weight="normal" fill="#1a1a1a" stroke="#1a1a1a" stroke-width="0.18" >0.0</text>
<line x1="109.50" y1="246.00" x2="111.50" y2="246.00" stroke="#7a7a7a" stroke-width="0.8"/>
<text x="104.70" y="248.50" font-size="7" text-anchor="end" font-weight="normal" fill="#1a1a1a" stroke="#1a1a1a" stroke-width="0.18" >-0.4</text>
<line x1="111.50" y1="246.00" x2="111.50" y2="248.00" stroke="#7a7a7a" stroke-width="0.8"/>
<text x="111.50" y="259.30" font-size="7" text-anchor="middle" font-weight="normal" fill="#1a1a1a" stroke="#1a1a1a" stroke-width="0.18" >0</text>
<line x1="157.70" y1="246.00" x2="157.70" y2="248.00" stroke="#7a7a7a" stroke-width="0.8"/>
<text x="157.70" y="259.30" font-size="7" text-anchor="middle" font-weight="normal" fill="#1a1a1a" stroke="#1a1a1a" stroke-width="0.18" >20</text>
<line x1="203.90" y1="246.00" x2="203.90" y2="248.00" stroke="#7a7a7a" stroke-width="0.8"/>
<text x="203.90" y="259.30" font-size="7" text-anchor="middle" font-weight="normal" fill="#1a1a1a" stroke="#1a1a1a" stroke-width="0.18" >40</text>
<line x1="250.10" y1="246.00" x2="250.10" y2="248.00" stroke="#7a7a7a" stroke-width="0.8"/>
<text x="250.10" y="259.30" font-size="7" text-anchor="middle" font-weight="normal" fill="#1a1a1a" stroke="#1a1a1a" stroke-width="0.18" >60</text>
<line x1="296.30" y1="246.00" x2="296.30" y2="248.00" stroke="#7a7a7a" stroke-width="0.8"/>
<text x="296.30" y="259.30" font-size="7" text-anchor="middle" font-weight="normal" fill="#1a1a1a" stroke="#1a1a1a" stroke-width="0.18" >80</text>
<text x="205.50" y="269.20" font-size="6.7" text-anchor="middle" font-weight="bold" fill="#1a1a1a" stroke="#1a1a1a" stroke-width="0.18" >Time (min)</text>
<text x="0" y="0" transform="translate(89.00,193.00) rotate(-90)" font-size="7" text-anchor="middle" font-weight="bold" fill="#1a1a1a" stroke="#1a1a1a" stroke-width="0.18">([A]<tspan font-size="5" dy="1.5">t</tspan><tspan dy="-1.5">)</tspan><tspan font-size="5" dy="-3">0.5</tspan></text>
<text x="195.40" y="154.50" font-size="8.6" text-anchor="middle" font-weight="bold" fill="#1a1a1a" stroke="#1a1a1a" stroke-width="0.18" >(c)</text>
<path d="M111.50,192.78 L113.81,194.62 L116.12,196.47 L118.43,198.31 L120.74,200.16 L123.05,202.01 L125.36,203.85 L127.67,205.70 L129.98,207.55 L132.29,209.39 L134.60,211.24 L136.91,213.08 L139.22,214.93 L141.53,216.78 L143.84,218.62 L146.15,220.47 L148.46,223.05" fill="none" stroke="#9a6040" stroke-width="0.8"/>
<circle cx="111.50" cy="192.78" r="2.20" fill="#9a3214" stroke="#581a08" stroke-width="0.6"/>
<circle cx="113.81" cy="194.62" r="2.20" fill="#9a3214" stroke="#581a08" stroke-width="0.6"/>
<circle cx="116.12" cy="196.47" r="2.20" fill="#9a3214" stroke="#581a08" stroke-width="0.6"/>
<circle cx="118.43" cy="198.31" r="2.20" fill="#9a3214" stroke="#581a08" stroke-width="0.6"/>
<circle cx="120.74" cy="200.16" r="2.20" fill="#9a3214" stroke="#581a08" stroke-width="0.6"/>
<circle cx="123.05" cy="202.01" r="2.20" fill="#9a3214" stroke="#581a08" stroke-width="0.6"/>
<circle cx="125.36" cy="203.85" r="2.20" fill="#9a3214" stroke="#581a08" stroke-width="0.6"/>
<circle cx="127.67" cy="205.70" r="2.20" fill="#9a3214" stroke="#581a08" stroke-width="0.6"/>
<circle cx="129.98" cy="207.55" r="2.20" fill="#9a3214" stroke="#581a08" stroke-width="0.6"/>
<circle cx="132.29" cy="209.39" r="2.20" fill="#9a3214" stroke="#581a08" stroke-width="0.6"/>
<circle cx="134.60" cy="211.24" r="2.20" fill="#9a3214" stroke="#581a08" stroke-width="0.6"/>
<circle cx="136.91" cy="213.08" r="2.20" fill="#9a3214" stroke="#581a08" stroke-width="0.6"/>
<circle cx="139.22" cy="214.93" r="2.20" fill="#9a3214" stroke="#581a08" stroke-width="0.6"/>
<circle cx="141.53" cy="216.78" r="2.20" fill="#9a3214" stroke="#581a08" stroke-width="0.6"/>
<circle cx="143.84" cy="218.62" r="2.20" fill="#9a3214" stroke="#581a08" stroke-width="0.6"/>
<circle cx="146.15" cy="220.47" r="2.20" fill="#9a3214" stroke="#581a08" stroke-width="0.6"/>
<circle cx="148.46" cy="223.05" r="2.20" fill="#9a3214" stroke="#581a08" stroke-width="0.6"/>
<path d="M118.43,188.35 L125.36,192.38 L132.29,195.53 L139.22,199.88 L146.15,204.47 L153.08,207.56 L160.01,210.94 L166.94,214.75 L173.87,218.66 L180.80,220.95" fill="none" stroke="#7a70e0" stroke-width="0.8"/>
<rect x="116.41" y="186.33" width="4.05" height="4.05" fill="#3a1ec8" stroke="#1e0c80" stroke-width="0.5"/>
<rect x="123.34" y="190.36" width="4.05" height="4.05" fill="#3a1ec8" stroke="#1e0c80" stroke-width="0.5"/>
<rect x="130.27" y="193.51" width="4.05" height="4.05" fill="#3a1ec8" stroke="#1e0c80" stroke-width="0.5"/>
<rect x="137.20" y="197.85" width="4.05" height="4.05" fill="#3a1ec8" stroke="#1e0c80" stroke-width="0.5"/>
<rect x="144.13" y="202.45" width="4.05" height="4.05" fill="#3a1ec8" stroke="#1e0c80" stroke-width="0.5"/>
<rect x="151.06" y="205.54" width="4.05" height="4.05" fill="#3a1ec8" stroke="#1e0c80" stroke-width="0.5"/>
<rect x="157.99" y="208.92" width="4.05" height="4.05" fill="#3a1ec8" stroke="#1e0c80" stroke-width="0.5"/>
<rect x="164.92" y="212.73" width="4.05" height="4.05" fill="#3a1ec8" stroke="#1e0c80" stroke-width="0.5"/>
<rect x="171.85" y="216.63" width="4.05" height="4.05" fill="#3a1ec8" stroke="#1e0c80" stroke-width="0.5"/>
<rect x="178.78" y="218.93" width="4.05" height="4.05" fill="#3a1ec8" stroke="#1e0c80" stroke-width="0.5"/>
<path d="M116.12,181.40 L120.74,184.04 L125.36,187.23 L129.98,189.71 L134.60,192.17 L139.22,194.37 L143.84,196.49 L148.46,199.06 L153.08,201.02 L157.70,203.15 L162.32,204.88 L166.94,206.63 L171.56,208.47 L176.18,210.07 L180.80,211.87 L185.42,213.59 L190.04,215.46 L194.66,217.08" fill="none" stroke="#a890d8" stroke-width="0.8"/>
<polygon points="116.12,179.09 118.43,183.25 113.81,183.25" fill="#9068cc" stroke="#44207a" stroke-width="0.6"/>
<polygon points="120.74,181.73 123.05,185.89 118.43,185.89" fill="#9068cc" stroke="#44207a" stroke-width="0.6"/>
<polygon points="125.36,184.92 127.67,189.08 123.05,189.08" fill="#9068cc" stroke="#44207a" stroke-width="0.6"/>
<polygon points="129.98,187.40 132.29,191.56 127.67,191.56" fill="#9068cc" stroke="#44207a" stroke-width="0.6"/>
<polygon points="134.60,189.86 136.91,194.02 132.29,194.02" fill="#9068cc" stroke="#44207a" stroke-width="0.6"/>
<polygon points="139.22,192.06 141.53,196.22 136.91,196.22" fill="#9068cc" stroke="#44207a" stroke-width="0.6"/>
<polygon points="143.84,194.18 146.15,198.34 141.53,198.34" fill="#9068cc" stroke="#44207a" stroke-width="0.6"/>
<polygon points="148.46,196.75 150.77,200.91 146.15,200.91" fill="#9068cc" stroke="#44207a" stroke-width="0.6"/>
<polygon points="153.08,198.71 155.39,202.86 150.77,202.86" fill="#9068cc" stroke="#44207a" stroke-width="0.6"/>
<polygon points="157.70,200.84 160.01,205.00 155.39,205.00" fill="#9068cc" stroke="#44207a" stroke-width="0.6"/>
<polygon points="162.32,202.57 164.63,206.73 160.01,206.73" fill="#9068cc" stroke="#44207a" stroke-width="0.6"/>
<polygon points="166.94,204.32 169.25,208.47 164.63,208.47" fill="#9068cc" stroke="#44207a" stroke-width="0.6"/>
<polygon points="171.56,206.16 173.87,210.32 169.25,210.32" fill="#9068cc" stroke="#44207a" stroke-width="0.6"/>
<polygon points="176.18,207.76 178.49,211.92 173.87,211.92" fill="#9068cc" stroke="#44207a" stroke-width="0.6"/>
<polygon points="180.80,209.56 183.11,213.72 178.49,213.72" fill="#9068cc" stroke="#44207a" stroke-width="0.6"/>
<polygon points="185.42,211.28 187.73,215.43 183.11,215.43" fill="#9068cc" stroke="#44207a" stroke-width="0.6"/>
<polygon points="190.04,213.15 192.35,217.31 187.73,217.31" fill="#9068cc" stroke="#44207a" stroke-width="0.6"/>
<polygon points="194.66,214.77 196.97,218.92 192.35,218.92" fill="#9068cc" stroke="#44207a" stroke-width="0.6"/>
<path d="M118.43,168.58 L125.36,170.59 L132.29,173.49 L139.22,176.27 L146.15,180.14 L153.08,183.36 L160.01,187.04 L166.94,190.31 L173.87,193.69 L180.80,197.24 L187.73,200.16 L194.66,203.15 L201.59,205.52 L208.52,207.73 L215.45,209.43 L222.38,212.42 L229.31,214.35 L236.24,216.90 L243.17,219.79 L250.10,221.17" fill="none" stroke="#80b050" stroke-width="0.8"/>
<polygon points="118.43,165.94 121.07,168.58 118.43,171.22 115.79,168.58" fill="#62a830" stroke="#2a4a10" stroke-width="0.9"/>
<polygon points="125.36,167.95 128.00,170.59 125.36,173.23 122.72,170.59" fill="#62a830" stroke="#2a4a10" stroke-width="0.9"/>
<polygon points="132.29,170.85 134.93,173.49 132.29,176.13 129.65,173.49" fill="#62a830" stroke="#2a4a10" stroke-width="0.9"/>
<polygon points="139.22,173.63 141.86,176.27 139.22,178.91 136.58,176.27" fill="#62a830" stroke="#2a4a10" stroke-width="0.9"/>
<polygon points="146.15,177.50 148.79,180.14 146.15,182.78 143.51,180.14" fill="#62a830" stroke="#2a4a10" stroke-width="0.9"/>
<polygon points="153.08,180.72 155.72,183.36 153.08,186.00 150.44,183.36" fill="#62a830" stroke="#2a4a10" stroke-width="0.9"/>
<polygon points="160.01,184.40 162.65,187.04 160.01,189.68 157.37,187.04" fill="#62a830" stroke="#2a4a10" stroke-width="0.9"/>
<polygon points="166.94,187.67 169.58,190.31 166.94,192.95 164.30,190.31" fill="#62a830" stroke="#2a4a10" stroke-width="0.9"/>
<polygon points="173.87,191.05 176.51,193.69 173.87,196.33 171.23,193.69" fill="#62a830" stroke="#2a4a10" stroke-width="0.9"/>
<polygon points="180.80,194.60 183.44,197.24 180.80,199.88 178.16,197.24" fill="#62a830" stroke="#2a4a10" stroke-width="0.9"/>
<polygon points="187.73,197.52 190.37,200.16 187.73,202.80 185.09,200.16" fill="#62a830" stroke="#2a4a10" stroke-width="0.9"/>
<polygon points="194.66,200.51 197.30,203.15 194.66,205.79 192.02,203.15" fill="#62a830" stroke="#2a4a10" stroke-width="0.9"/>
<polygon points="201.59,202.88 204.23,205.52 201.59,208.16 198.95,205.52" fill="#62a830" stroke="#2a4a10" stroke-width="0.9"/>
<polygon points="208.52,205.09 211.16,207.73 208.52,210.37 205.88,207.73" fill="#62a830" stroke="#2a4a10" stroke-width="0.9"/>
<polygon points="215.45,206.79 218.09,209.43 215.45,212.07 212.81,209.43" fill="#62a830" stroke="#2a4a10" stroke-width="0.9"/>
<polygon points="222.38,209.78 225.02,212.42 222.38,215.06 219.74,212.42" fill="#62a830" stroke="#2a4a10" stroke-width="0.9"/>
<polygon points="229.31,211.71 231.95,214.35 229.31,216.99 226.67,214.35" fill="#62a830" stroke="#2a4a10" stroke-width="0.9"/>
<polygon points="236.24,214.26 238.88,216.90 236.24,219.54 233.60,216.90" fill="#62a830" stroke="#2a4a10" stroke-width="0.9"/>
<polygon points="243.17,217.15 245.81,219.79 243.17,222.43 240.53,219.79" fill="#62a830" stroke="#2a4a10" stroke-width="0.9"/>
<polygon points="250.10,218.53 252.74,221.17 250.10,223.81 247.46,221.17" fill="#62a830" stroke="#2a4a10" stroke-width="0.9"/>
<path d="M120.74,149.93 L129.98,157.35 L139.22,164.07 L148.46,171.11 L157.70,177.13 L166.94,183.36 L176.18,187.60 L185.42,191.54 L194.66,195.77 L203.90,199.88 L213.14,202.21 L222.38,206.25 L231.62,208.22 L240.86,210.75 L250.10,212.42 L259.34,214.48 L268.58,215.92 L277.82,217.26 L287.06,220.18" fill="none" stroke="#a07070" stroke-width="0.8"/>
<path d="M118.43,147.62L123.05,152.24M123.05,147.62L118.43,152.24" stroke="#603030" stroke-width="1.45" fill="none"/>
<path d="M127.67,155.04L132.29,159.66M132.29,155.04L127.67,159.66" stroke="#603030" stroke-width="1.45" fill="none"/>
<path d="M136.91,161.76L141.53,166.38M141.53,161.76L136.91,166.38" stroke="#603030" stroke-width="1.45" fill="none"/>
<path d="M146.15,168.80L150.77,173.42M150.77,168.80L146.15,173.42" stroke="#603030" stroke-width="1.45" fill="none"/>
<path d="M155.39,174.82L160.01,179.44M160.01,174.82L155.39,179.44" stroke="#603030" stroke-width="1.45" fill="none"/>
<path d="M164.63,181.05L169.25,185.67M169.25,181.05L164.63,185.67" stroke="#603030" stroke-width="1.45" fill="none"/>
<path d="M173.87,185.29L178.49,189.91M178.49,185.29L173.87,189.91" stroke="#603030" stroke-width="1.45" fill="none"/>
<path d="M183.11,189.23L187.73,193.85M187.73,189.23L183.11,193.85" stroke="#603030" stroke-width="1.45" fill="none"/>
<path d="M192.35,193.46L196.97,198.08M196.97,193.46L192.35,198.08" stroke="#603030" stroke-width="1.45" fill="none"/>
<path d="M201.59,197.57L206.21,202.19M206.21,197.57L201.59,202.19" stroke="#603030" stroke-width="1.45" fill="none"/>
<path d="M210.83,199.90L215.45,204.52M215.45,199.90L210.83,204.52" stroke="#603030" stroke-width="1.45" fill="none"/>
<path d="M220.07,203.94L224.69,208.56M224.69,203.94L220.07,208.56" stroke="#603030" stroke-width="1.45" fill="none"/>
<path d="M229.31,205.91L233.93,210.53M233.93,205.91L229.31,210.53" stroke="#603030" stroke-width="1.45" fill="none"/>
<path d="M238.55,208.44L243.17,213.06M243.17,208.44L238.55,213.06" stroke="#603030" stroke-width="1.45" fill="none"/>
<path d="M247.79,210.11L252.41,214.73M252.41,210.11L247.79,214.73" stroke="#603030" stroke-width="1.45" fill="none"/>
<path d="M257.03,212.17L261.65,216.79M261.65,212.17L257.03,216.79" stroke="#603030" stroke-width="1.45" fill="none"/>
<path d="M266.27,213.61L270.89,218.23M270.89,213.61L266.27,218.23" stroke="#603030" stroke-width="1.45" fill="none"/>
<path d="M275.51,214.95L280.13,219.57M280.13,214.95L275.51,219.57" stroke="#603030" stroke-width="1.45" fill="none"/>
<path d="M284.75,217.87L289.37,222.49M289.37,217.87L284.75,222.49" stroke="#603030" stroke-width="1.45" fill="none"/>
<line x1="111.50" y1="192.78" x2="148.46" y2="222.32" stroke="#9a6040" stroke-width="0.6"/>
<line x1="118.43" y1="190.30" x2="180.80" y2="221.63" stroke="#7a70e0" stroke-width="0.6"/>
<line x1="116.12" y1="184.86" x2="194.66" y2="218.94" stroke="#a890d8" stroke-width="0.6"/>
<line x1="118.43" y1="169.83" x2="250.10" y2="223.95" stroke="#80b050" stroke-width="0.6"/>
<line x1="120.74" y1="161.39" x2="287.06" y2="225.96" stroke="#333" stroke-width="0.8"/>
<line x1="244.00" y1="147.90" x2="256.00" y2="147.90" stroke="#9a6040" stroke-width="0.8"/>
<circle cx="250.20" cy="147.90" r="2.40" fill="#9a3214" stroke="#581a08" stroke-width="0.6"/>
<text x="258.00" y="150.60" font-size="7.5" text-anchor="start" font-weight="normal" fill="#1a1a1a" stroke="#1a1a1a" stroke-width="0.18" >0.0001 M</text>
<line x1="244.00" y1="160.05" x2="256.00" y2="160.05" stroke="#7a70e0" stroke-width="0.8"/>
<rect x="247.99" y="157.84" width="4.42" height="4.42" fill="#3a1ec8" stroke="#1e0c80" stroke-width="0.5"/>
<text x="258.00" y="162.75" font-size="7.5" text-anchor="start" font-weight="normal" fill="#1a1a1a" stroke="#1a1a1a" stroke-width="0.18" >0.0002 M</text>
<line x1="244.00" y1="172.20" x2="256.00" y2="172.20" stroke="#a890d8" stroke-width="0.8"/>
<polygon points="250.20,169.68 252.72,174.22 247.68,174.22" fill="#9068cc" stroke="#44207a" stroke-width="0.6"/>
<text x="258.00" y="174.90" font-size="7.5" text-anchor="start" font-weight="normal" fill="#1a1a1a" stroke="#1a1a1a" stroke-width="0.18" >0.0004 M</text>
<line x1="244.00" y1="184.35" x2="256.00" y2="184.35" stroke="#80b050" stroke-width="0.8"/>
<polygon points="250.20,181.47 253.08,184.35 250.20,187.23 247.32,184.35" fill="#62a830" stroke="#2a4a10" stroke-width="0.9"/>
<text x="258.00" y="187.05" font-size="7.5" text-anchor="start" font-weight="normal" fill="#1a1a1a" stroke="#1a1a1a" stroke-width="0.18" >0.0006 M</text>
<line x1="244.00" y1="196.50" x2="256.00" y2="196.50" stroke="#a07070" stroke-width="0.8"/>
<path d="M247.68,193.98L252.72,199.02M252.72,193.98L247.68,199.02" stroke="#603030" stroke-width="1.45" fill="none"/>
<text x="258.00" y="199.20" font-size="7.5" text-anchor="start" font-weight="normal" fill="#1a1a1a" stroke="#1a1a1a" stroke-width="0.18" >0.0009 M</text>
<rect x="303.5" y="135" width="73" height="119" fill="#fcf0f6"/>
<rect x="305.0" y="140.3" width="69.5" height="19.10" fill="#fdf5f4" stroke="#b06a58" stroke-width="0.9"/>
<text x="339.75" y="149.20" font-size="7.5" text-anchor="middle" font-weight="normal" fill="#c05a3a" stroke="#c05a3a" stroke-width="0.05" >y = -0.035x + 0.609</text>
<text x="339.75" y="156.70" font-size="7.5" text-anchor="middle" font-weight="normal" fill="#c05a3a" stroke="#c05a3a" stroke-width="0.05" >R² = 0.995</text>
<rect x="305.0" y="161.7" width="69.5" height="20.40" fill="#f7f5fd" stroke="#5a48d0" stroke-width="0.9"/>
<text x="339.75" y="170.60" font-size="7.5" text-anchor="middle" font-weight="normal" fill="#3e2ec0" stroke="#3e2ec0" stroke-width="0.05" >y = -0.022x + 0.722</text>
<text x="339.75" y="178.10" font-size="7.5" text-anchor="middle" font-weight="normal" fill="#3e2ec0" stroke="#3e2ec0" stroke-width="0.05" >R² = 0.997</text>
<rect x="305.0" y="185.0" width="69.5" height="19.50" fill="#fdf6fd" stroke="#c890e0" stroke-width="0.9"/>
<text x="339.75" y="193.90" font-size="7.5" text-anchor="middle" font-weight="normal" fill="#b878d8" stroke="#b878d8" stroke-width="0.05" >y = -0.019x + 0.797</text>
<text x="339.75" y="201.40" font-size="7.5" text-anchor="middle" font-weight="normal" fill="#b878d8" stroke="#b878d8" stroke-width="0.05" >R² = 0.980</text>
<rect x="305.0" y="208.4" width="69.5" height="19.20" fill="#effaf6" stroke="#60b060" stroke-width="0.9"/>
<text x="339.75" y="217.30" font-size="7.5" text-anchor="middle" font-weight="normal" fill="#48a040" stroke="#48a040" stroke-width="0.05" >y = -0.018x + 1.098</text>
<text x="339.75" y="224.80" font-size="7.5" text-anchor="middle" font-weight="normal" fill="#48a040" stroke="#48a040" stroke-width="0.05" >R² = 0.993</text>
<rect x="305.0" y="231.9" width="69.5" height="18.60" fill="#fbf4f6" stroke="#804050" stroke-width="0.9"/>
<text x="339.75" y="240.80" font-size="7.5" text-anchor="middle" font-weight="normal" fill="#5a2030" stroke="#5a2030" stroke-width="0.05" >y = -0.017x + 1.272</text>
<text x="339.75" y="248.30" font-size="7.5" text-anchor="middle" font-weight="normal" fill="#5a2030" stroke="#5a2030" stroke-width="0.05" >R² = 0.939</text>
<rect x="35.70" y="280.70" width="171.50" height="96.60" fill="none" stroke="#7a7a7a" stroke-width="1.25"/>
<line x1="33.70" y1="377.30" x2="35.70" y2="377.30" stroke="#7a7a7a" stroke-width="0.8"/>
<text x="29.40" y="379.80" font-size="7" text-anchor="end" font-weight="normal" fill="#1a1a1a" stroke="#1a1a1a" stroke-width="0.18" >6</text>
<line x1="33.70" y1="357.98" x2="35.70" y2="357.98" stroke="#7a7a7a" stroke-width="0.8"/>
<text x="29.40" y="360.48" font-size="7" text-anchor="end" font-weight="normal" fill="#1a1a1a" stroke="#1a1a1a" stroke-width="0.18" >8</text>
<line x1="33.70" y1="338.66" x2="35.70" y2="338.66" stroke="#7a7a7a" stroke-width="0.8"/>
<text x="29.40" y="341.16" font-size="7" text-anchor="end" font-weight="normal" fill="#1a1a1a" stroke="#1a1a1a" stroke-width="0.18" >10</text>
<line x1="33.70" y1="319.34" x2="35.70" y2="319.34" stroke="#7a7a7a" stroke-width="0.8"/>
<text x="29.40" y="321.84" font-size="7" text-anchor="end" font-weight="normal" fill="#1a1a1a" stroke="#1a1a1a" stroke-width="0.18" >12</text>
<line x1="33.70" y1="300.02" x2="35.70" y2="300.02" stroke="#7a7a7a" stroke-width="0.8"/>
<text x="29.40" y="302.52" font-size="7" text-anchor="end" font-weight="normal" fill="#1a1a1a" stroke="#1a1a1a" stroke-width="0.18" >14</text>
<line x1="33.70" y1="280.70" x2="35.70" y2="280.70" stroke="#7a7a7a" stroke-width="0.8"/>
<text x="29.40" y="283.20" font-size="7" text-anchor="end" font-weight="normal" fill="#1a1a1a" stroke="#1a1a1a" stroke-width="0.18" >16</text>
<line x1="35.70" y1="377.30" x2="35.70" y2="379.30" stroke="#7a7a7a" stroke-width="0.8"/>
<text x="35.70" y="390.70" font-size="7" text-anchor="middle" font-weight="normal" fill="#1a1a1a" stroke="#1a1a1a" stroke-width="0.18" >0</text>
<line x1="70.00" y1="377.30" x2="70.00" y2="379.30" stroke="#7a7a7a" stroke-width="0.8"/>
<text x="70.00" y="390.70" font-size="7" text-anchor="middle" font-weight="normal" fill="#1a1a1a" stroke="#1a1a1a" stroke-width="0.18" >0.0002</text>
<line x1="104.30" y1="377.30" x2="104.30" y2="379.30" stroke="#7a7a7a" stroke-width="0.8"/>
<text x="104.30" y="390.70" font-size="7" text-anchor="middle" font-weight="normal" fill="#1a1a1a" stroke="#1a1a1a" stroke-width="0.18" >0.0004</text>
<line x1="138.60" y1="377.30" x2="138.60" y2="379.30" stroke="#7a7a7a" stroke-width="0.8"/>
<text x="138.60" y="390.70" font-size="7" text-anchor="middle" font-weight="normal" fill="#1a1a1a" stroke="#1a1a1a" stroke-width="0.18" >0.0006</text>
<line x1="172.90" y1="377.30" x2="172.90" y2="379.30" stroke="#7a7a7a" stroke-width="0.8"/>
<text x="172.90" y="390.70" font-size="7" text-anchor="middle" font-weight="normal" fill="#1a1a1a" stroke="#1a1a1a" stroke-width="0.18" >0.0008</text>
<line x1="207.20" y1="377.30" x2="207.20" y2="379.30" stroke="#7a7a7a" stroke-width="0.8"/>
<text x="207.20" y="390.70" font-size="7" text-anchor="middle" font-weight="normal" fill="#1a1a1a" stroke="#1a1a1a" stroke-width="0.18" >0.001</text>
<text x="122.60" y="400.50" font-size="6.9" text-anchor="middle" font-weight="bold" fill="#1a1a1a" stroke="#1a1a1a" stroke-width="0.18" >[MG] (M)</text>
<text x="0" y="0" transform="translate(15.20,330.00) rotate(-90)" font-size="7.4" text-anchor="middle" font-weight="bold" fill="#1a1a1a" stroke="#1a1a1a" stroke-width="0.18">10<tspan font-size="5" dy="-2.5">4</tspan><tspan dy="2.5"> (</tspan><tspan font-style="italic">k</tspan>″<tspan font-size="5" dy="1.5">obs</tspan><tspan dy="-1.5">) (M</tspan><tspan font-size="5" dy="-2.5">0.5</tspan><tspan dy="2.5"> min</tspan><tspan font-size="5" dy="-2.5">−1</tspan><tspan dy="2.5">)</tspan></text>
<text x="112.00" y="294.80" font-size="8.6" text-anchor="middle" font-weight="bold" fill="#1a1a1a" stroke="#1a1a1a" stroke-width="0.18" >(d)</text>
<path d="M52.85,297.12 C55.14,304.08 63.14,340.79 70.00,349.29 C76.86,357.79 95.15,358.82 104.30,360.88 C113.45,362.94 127.17,363.78 138.60,364.74 C150.03,365.71 183.19,367.67 190.05,368.12" fill="none" stroke="#6a3aa8" stroke-width="1.1"/>
<circle cx="52.85" cy="297.12" r="2.6" fill="#4a1a80"/>
<circle cx="70.00" cy="349.29" r="2.6" fill="#4a1a80"/>
<circle cx="104.30" cy="360.88" r="2.6" fill="#4a1a80"/>
<circle cx="138.60" cy="364.74" r="2.6" fill="#4a1a80"/>
<circle cx="190.05" cy="368.12" r="2.6" fill="#4a1a80"/>
<rect x="254.00" y="281.50" width="181.60" height="98.20" fill="none" stroke="#7a7a7a" stroke-width="1.25"/>
<line x1="252.00" y1="379.70" x2="254.00" y2="379.70" stroke="#7a7a7a" stroke-width="0.8"/>
<text x="248.30" y="382.20" font-size="7" text-anchor="end" font-weight="normal" fill="#1a1a1a" stroke="#1a1a1a" stroke-width="0.18" >0</text>
<line x1="252.00" y1="360.06" x2="254.00" y2="360.06" stroke="#7a7a7a" stroke-width="0.8"/>
<text x="248.30" y="362.56" font-size="7" text-anchor="end" font-weight="normal" fill="#1a1a1a" stroke="#1a1a1a" stroke-width="0.18" >20</text>
<line x1="252.00" y1="340.42" x2="254.00" y2="340.42" stroke="#7a7a7a" stroke-width="0.8"/>
<text x="248.30" y="342.92" font-size="7" text-anchor="end" font-weight="normal" fill="#1a1a1a" stroke="#1a1a1a" stroke-width="0.18" >40</text>
<line x1="252.00" y1="320.78" x2="254.00" y2="320.78" stroke="#7a7a7a" stroke-width="0.8"/>
<text x="248.30" y="323.28" font-size="7" text-anchor="end" font-weight="normal" fill="#1a1a1a" stroke="#1a1a1a" stroke-width="0.18" >60</text>
<line x1="252.00" y1="301.14" x2="254.00" y2="301.14" stroke="#7a7a7a" stroke-width="0.8"/>
<text x="248.30" y="303.64" font-size="7" text-anchor="end" font-weight="normal" fill="#1a1a1a" stroke="#1a1a1a" stroke-width="0.18" >80</text>
<line x1="252.00" y1="281.50" x2="254.00" y2="281.50" stroke="#7a7a7a" stroke-width="0.8"/>
<text x="248.30" y="284.00" font-size="7" text-anchor="end" font-weight="normal" fill="#1a1a1a" stroke="#1a1a1a" stroke-width="0.18" >100</text>
<line x1="254.00" y1="379.70" x2="254.00" y2="381.70" stroke="#7a7a7a" stroke-width="0.8"/>
<text x="254.00" y="393.20" font-size="7" text-anchor="middle" font-weight="normal" fill="#1a1a1a" stroke="#1a1a1a" stroke-width="0.18" >0</text>
<line x1="299.40" y1="379.70" x2="299.40" y2="381.70" stroke="#7a7a7a" stroke-width="0.8"/>
<text x="299.40" y="393.20" font-size="7" text-anchor="middle" font-weight="normal" fill="#1a1a1a" stroke="#1a1a1a" stroke-width="0.18" >20</text>
<line x1="344.80" y1="379.70" x2="344.80" y2="381.70" stroke="#7a7a7a" stroke-width="0.8"/>
<text x="344.80" y="393.20" font-size="7" text-anchor="middle" font-weight="normal" fill="#1a1a1a" stroke="#1a1a1a" stroke-width="0.18" >40</text>
<line x1="390.20" y1="379.70" x2="390.20" y2="381.70" stroke="#7a7a7a" stroke-width="0.8"/>
<text x="390.20" y="393.20" font-size="7" text-anchor="middle" font-weight="normal" fill="#1a1a1a" stroke="#1a1a1a" stroke-width="0.18" >60</text>
<line x1="435.60" y1="379.70" x2="435.60" y2="381.70" stroke="#7a7a7a" stroke-width="0.8"/>
<text x="435.60" y="393.20" font-size="7" text-anchor="middle" font-weight="normal" fill="#1a1a1a" stroke="#1a1a1a" stroke-width="0.18" >80</text>
<text x="349.20" y="403.80" font-size="6.7" text-anchor="middle" font-weight="bold" fill="#1a1a1a" stroke="#1a1a1a" stroke-width="0.18" >Time (min)</text>
<text x="0" y="0" transform="translate(236.00,330.40) rotate(-90)" font-size="7" text-anchor="middle" font-weight="bold" fill="#1a1a1a" stroke="#1a1a1a" stroke-width="0.18">Degradation (%)</text>
<text x="336.00" y="371.00" font-size="8.6" text-anchor="middle" font-weight="bold" fill="#1a1a1a" stroke="#1a1a1a" stroke-width="0.18" >(e)</text>
<path d="M254.00,379.70 L256.27,356.13 L258.54,351.22 L260.81,345.33 L263.08,340.42 L265.35,335.51 L267.62,330.60 L269.89,326.18 L272.16,321.76 L274.43,315.87 L276.70,309.00 L278.97,302.12 L281.24,296.72 L283.51,291.32 L285.78,286.41 L288.05,281.99 L290.32,281.50 L292.59,281.50" fill="none" stroke="#9a6040" stroke-width="0.8"/>
<circle cx="254.00" cy="379.70" r="2.20" fill="#9a3214" stroke="#581a08" stroke-width="0.6"/>
<circle cx="256.27" cy="356.13" r="2.20" fill="#9a3214" stroke="#581a08" stroke-width="0.6"/>
<circle cx="258.54" cy="351.22" r="2.20" fill="#9a3214" stroke="#581a08" stroke-width="0.6"/>
<circle cx="260.81" cy="345.33" r="2.20" fill="#9a3214" stroke="#581a08" stroke-width="0.6"/>
<circle cx="263.08" cy="340.42" r="2.20" fill="#9a3214" stroke="#581a08" stroke-width="0.6"/>
<circle cx="265.35" cy="335.51" r="2.20" fill="#9a3214" stroke="#581a08" stroke-width="0.6"/>
<circle cx="267.62" cy="330.60" r="2.20" fill="#9a3214" stroke="#581a08" stroke-width="0.6"/>
<circle cx="269.89" cy="326.18" r="2.20" fill="#9a3214" stroke="#581a08" stroke-width="0.6"/>
<circle cx="272.16" cy="321.76" r="2.20" fill="#9a3214" stroke="#581a08" stroke-width="0.6"/>
<circle cx="274.43" cy="315.87" r="2.20" fill="#9a3214" stroke="#581a08" stroke-width="0.6"/>
<circle cx="276.70" cy="309.00" r="2.20" fill="#9a3214" stroke="#581a08" stroke-width="0.6"/>
<circle cx="278.97" cy="302.12" r="2.20" fill="#9a3214" stroke="#581a08" stroke-width="0.6"/>
<circle cx="281.24" cy="296.72" r="2.20" fill="#9a3214" stroke="#581a08" stroke-width="0.6"/>
<circle cx="283.51" cy="291.32" r="2.20" fill="#9a3214" stroke="#581a08" stroke-width="0.6"/>
<circle cx="285.78" cy="286.41" r="2.20" fill="#9a3214" stroke="#581a08" stroke-width="0.6"/>
<circle cx="288.05" cy="281.99" r="2.20" fill="#9a3214" stroke="#581a08" stroke-width="0.6"/>
<circle cx="290.32" cy="281.50" r="2.20" fill="#9a3214" stroke="#581a08" stroke-width="0.6"/>
<circle cx="292.59" cy="281.50" r="2.20" fill="#9a3214" stroke="#581a08" stroke-width="0.6"/>
<path d="M254.00,379.70 L260.81,371.84 L267.62,353.19 L274.43,334.92 L281.24,321.86 L288.05,310.96 L294.86,301.14 L301.67,294.27 L308.48,288.37 L315.29,284.45 L322.10,281.50" fill="none" stroke="#7a70e0" stroke-width="0.8"/>
<rect x="251.98" y="377.68" width="4.05" height="4.05" fill="#3a1ec8" stroke="#1e0c80" stroke-width="0.5"/>
<rect x="258.79" y="369.82" width="4.05" height="4.05" fill="#3a1ec8" stroke="#1e0c80" stroke-width="0.5"/>
<rect x="265.60" y="351.16" width="4.05" height="4.05" fill="#3a1ec8" stroke="#1e0c80" stroke-width="0.5"/>
<rect x="272.41" y="332.90" width="4.05" height="4.05" fill="#3a1ec8" stroke="#1e0c80" stroke-width="0.5"/>
<rect x="279.22" y="319.84" width="4.05" height="4.05" fill="#3a1ec8" stroke="#1e0c80" stroke-width="0.5"/>
<rect x="286.03" y="308.94" width="4.05" height="4.05" fill="#3a1ec8" stroke="#1e0c80" stroke-width="0.5"/>
<rect x="292.84" y="299.12" width="4.05" height="4.05" fill="#3a1ec8" stroke="#1e0c80" stroke-width="0.5"/>
<rect x="299.65" y="292.24" width="4.05" height="4.05" fill="#3a1ec8" stroke="#1e0c80" stroke-width="0.5"/>
<rect x="306.46" y="286.35" width="4.05" height="4.05" fill="#3a1ec8" stroke="#1e0c80" stroke-width="0.5"/>
<rect x="313.27" y="282.42" width="4.05" height="4.05" fill="#3a1ec8" stroke="#1e0c80" stroke-width="0.5"/>
<rect x="320.08" y="279.48" width="4.05" height="4.05" fill="#3a1ec8" stroke="#1e0c80" stroke-width="0.5"/>
<path d="M254.00,379.70 L258.54,350.24 L263.08,338.46 L267.62,329.62 L272.16,322.74 L276.70,316.36 L281.24,311.45 L285.78,307.03 L290.32,303.10 L294.86,299.67 L299.40,296.72 L303.94,293.77 L308.48,290.83 L313.02,288.87 L317.56,286.90 L322.10,285.43 L326.64,284.45 L331.18,283.46 L335.72,282.48" fill="none" stroke="#a890d8" stroke-width="0.8"/>
<polygon points="254.00,377.39 256.31,381.55 251.69,381.55" fill="#9068cc" stroke="#44207a" stroke-width="0.6"/>
<polygon points="258.54,347.93 260.85,352.09 256.23,352.09" fill="#9068cc" stroke="#44207a" stroke-width="0.6"/>
<polygon points="263.08,336.15 265.39,340.30 260.77,340.30" fill="#9068cc" stroke="#44207a" stroke-width="0.6"/>
<polygon points="267.62,327.31 269.93,331.47 265.31,331.47" fill="#9068cc" stroke="#44207a" stroke-width="0.6"/>
<polygon points="272.16,320.43 274.47,324.59 269.85,324.59" fill="#9068cc" stroke="#44207a" stroke-width="0.6"/>
<polygon points="276.70,314.05 279.01,318.21 274.39,318.21" fill="#9068cc" stroke="#44207a" stroke-width="0.6"/>
<polygon points="281.24,309.14 283.55,313.30 278.93,313.30" fill="#9068cc" stroke="#44207a" stroke-width="0.6"/>
<polygon points="285.78,304.72 288.09,308.88 283.47,308.88" fill="#9068cc" stroke="#44207a" stroke-width="0.6"/>
<polygon points="290.32,300.79 292.63,304.95 288.01,304.95" fill="#9068cc" stroke="#44207a" stroke-width="0.6"/>
<polygon points="294.86,297.36 297.17,301.51 292.55,301.51" fill="#9068cc" stroke="#44207a" stroke-width="0.6"/>
<polygon points="299.40,294.41 301.71,298.57 297.09,298.57" fill="#9068cc" stroke="#44207a" stroke-width="0.6"/>
<polygon points="303.94,291.46 306.25,295.62 301.63,295.62" fill="#9068cc" stroke="#44207a" stroke-width="0.6"/>
<polygon points="308.48,288.52 310.79,292.68 306.17,292.68" fill="#9068cc" stroke="#44207a" stroke-width="0.6"/>
<polygon points="313.02,286.56 315.33,290.71 310.71,290.71" fill="#9068cc" stroke="#44207a" stroke-width="0.6"/>
<polygon points="317.56,284.59 319.87,288.75 315.25,288.75" fill="#9068cc" stroke="#44207a" stroke-width="0.6"/>
<polygon points="322.10,283.12 324.41,287.28 319.79,287.28" fill="#9068cc" stroke="#44207a" stroke-width="0.6"/>
<polygon points="326.64,282.14 328.95,286.29 324.33,286.29" fill="#9068cc" stroke="#44207a" stroke-width="0.6"/>
<polygon points="331.18,281.15 333.49,285.31 328.87,285.31" fill="#9068cc" stroke="#44207a" stroke-width="0.6"/>
<polygon points="335.72,280.17 338.03,284.33 333.41,284.33" fill="#9068cc" stroke="#44207a" stroke-width="0.6"/>
<path d="M254.00,379.70 L260.81,356.13 L267.62,351.52 L274.43,345.33 L281.24,338.95 L288.05,330.11 L294.86,322.74 L301.67,315.87 L308.48,309.00 L315.29,304.09 L322.10,300.16 L328.91,296.23 L335.72,293.28 L342.53,290.34 L349.34,288.37 L356.15,286.41 L362.96,284.45 L369.77,282.97 L376.58,281.99 L383.39,281.50 L390.20,281.50" fill="none" stroke="#80b050" stroke-width="0.8"/>
<polygon points="254.00,377.06 256.64,379.70 254.00,382.34 251.36,379.70" fill="#62a830" stroke="#2a4a10" stroke-width="0.9"/>
<polygon points="260.81,353.49 263.45,356.13 260.81,358.77 258.17,356.13" fill="#62a830" stroke="#2a4a10" stroke-width="0.9"/>
<polygon points="267.62,348.88 270.26,351.52 267.62,354.16 264.98,351.52" fill="#62a830" stroke="#2a4a10" stroke-width="0.9"/>
<polygon points="274.43,342.69 277.07,345.33 274.43,347.97 271.79,345.33" fill="#62a830" stroke="#2a4a10" stroke-width="0.9"/>
<polygon points="281.24,336.31 283.88,338.95 281.24,341.59 278.60,338.95" fill="#62a830" stroke="#2a4a10" stroke-width="0.9"/>
<polygon points="288.05,327.47 290.69,330.11 288.05,332.75 285.41,330.11" fill="#62a830" stroke="#2a4a10" stroke-width="0.9"/>
<polygon points="294.86,320.10 297.50,322.74 294.86,325.38 292.22,322.74" fill="#62a830" stroke="#2a4a10" stroke-width="0.9"/>
<polygon points="301.67,313.23 304.31,315.87 301.67,318.51 299.03,315.87" fill="#62a830" stroke="#2a4a10" stroke-width="0.9"/>
<polygon points="308.48,306.36 311.12,309.00 308.48,311.64 305.84,309.00" fill="#62a830" stroke="#2a4a10" stroke-width="0.9"/>
<polygon points="315.29,301.45 317.93,304.09 315.29,306.73 312.65,304.09" fill="#62a830" stroke="#2a4a10" stroke-width="0.9"/>
<polygon points="322.10,297.52 324.74,300.16 322.10,302.80 319.46,300.16" fill="#62a830" stroke="#2a4a10" stroke-width="0.9"/>
<polygon points="328.91,293.59 331.55,296.23 328.91,298.87 326.27,296.23" fill="#62a830" stroke="#2a4a10" stroke-width="0.9"/>
<polygon points="335.72,290.64 338.36,293.28 335.72,295.92 333.08,293.28" fill="#62a830" stroke="#2a4a10" stroke-width="0.9"/>
<polygon points="342.53,287.70 345.17,290.34 342.53,292.98 339.89,290.34" fill="#62a830" stroke="#2a4a10" stroke-width="0.9"/>
<polygon points="349.34,285.73 351.98,288.37 349.34,291.01 346.70,288.37" fill="#62a830" stroke="#2a4a10" stroke-width="0.9"/>
<polygon points="356.15,283.77 358.79,286.41 356.15,289.05 353.51,286.41" fill="#62a830" stroke="#2a4a10" stroke-width="0.9"/>
<polygon points="362.96,281.81 365.60,284.45 362.96,287.09 360.32,284.45" fill="#62a830" stroke="#2a4a10" stroke-width="0.9"/>
<polygon points="369.77,280.33 372.41,282.97 369.77,285.61 367.13,282.97" fill="#62a830" stroke="#2a4a10" stroke-width="0.9"/>
<polygon points="376.58,279.35 379.22,281.99 376.58,284.63 373.94,281.99" fill="#62a830" stroke="#2a4a10" stroke-width="0.9"/>
<polygon points="383.39,278.86 386.03,281.50 383.39,284.14 380.75,281.50" fill="#62a830" stroke="#2a4a10" stroke-width="0.9"/>
<polygon points="390.20,278.86 392.84,281.50 390.20,284.14 387.56,281.50" fill="#62a830" stroke="#2a4a10" stroke-width="0.9"/>
<path d="M254.00,379.70 L263.08,372.33 L272.16,353.19 L281.24,338.95 L290.32,327.65 L299.40,318.82 L308.48,309.00 L317.56,302.61 L326.64,297.21 L335.72,293.28 L344.80,289.36 L353.88,286.90 L362.96,284.45 L372.04,282.48 L381.12,281.79 L390.20,281.50 L399.28,281.50 L408.36,281.50 L417.44,281.50 L426.52,281.50 L435.60,281.50" fill="none" stroke="#a07070" stroke-width="0.8"/>
<path d="M251.69,377.39L256.31,382.01M256.31,377.39L251.69,382.01" stroke="#603030" stroke-width="1.45" fill="none"/>
<path d="M260.77,370.02L265.39,374.64M265.39,370.02L260.77,374.64" stroke="#603030" stroke-width="1.45" fill="none"/>
<path d="M269.85,350.88L274.47,355.50M274.47,350.88L269.85,355.50" stroke="#603030" stroke-width="1.45" fill="none"/>
<path d="M278.93,336.64L283.55,341.26M283.55,336.64L278.93,341.26" stroke="#603030" stroke-width="1.45" fill="none"/>
<path d="M288.01,325.34L292.63,329.96M292.63,325.34L288.01,329.96" stroke="#603030" stroke-width="1.45" fill="none"/>
<path d="M297.09,316.51L301.71,321.13M301.71,316.51L297.09,321.13" stroke="#603030" stroke-width="1.45" fill="none"/>
<path d="M306.17,306.69L310.79,311.31M310.79,306.69L306.17,311.31" stroke="#603030" stroke-width="1.45" fill="none"/>
<path d="M315.25,300.30L319.87,304.92M319.87,300.30L315.25,304.92" stroke="#603030" stroke-width="1.45" fill="none"/>
<path d="M324.33,294.90L328.95,299.52M328.95,294.90L324.33,299.52" stroke="#603030" stroke-width="1.45" fill="none"/>
<path d="M333.41,290.97L338.03,295.59M338.03,290.97L333.41,295.59" stroke="#603030" stroke-width="1.45" fill="none"/>
<path d="M342.49,287.05L347.11,291.67M347.11,287.05L342.49,291.67" stroke="#603030" stroke-width="1.45" fill="none"/>
<path d="M351.57,284.59L356.19,289.21M356.19,284.59L351.57,289.21" stroke="#603030" stroke-width="1.45" fill="none"/>
<path d="M360.65,282.14L365.27,286.76M365.27,282.14L360.65,286.76" stroke="#603030" stroke-width="1.45" fill="none"/>
<path d="M369.73,280.17L374.35,284.79M374.35,280.17L369.73,284.79" stroke="#603030" stroke-width="1.45" fill="none"/>
<path d="M378.81,279.48L383.43,284.10M383.43,279.48L378.81,284.10" stroke="#603030" stroke-width="1.45" fill="none"/>
<path d="M387.89,279.19L392.51,283.81M392.51,279.19L387.89,283.81" stroke="#603030" stroke-width="1.45" fill="none"/>
<path d="M396.97,279.19L401.59,283.81M401.59,279.19L396.97,283.81" stroke="#603030" stroke-width="1.45" fill="none"/>
<path d="M406.05,279.19L410.67,283.81M410.67,279.19L406.05,283.81" stroke="#603030" stroke-width="1.45" fill="none"/>
<path d="M415.13,279.19L419.75,283.81M419.75,279.19L415.13,283.81" stroke="#603030" stroke-width="1.45" fill="none"/>
<path d="M424.21,279.19L428.83,283.81M428.83,279.19L424.21,283.81" stroke="#603030" stroke-width="1.45" fill="none"/>
<path d="M433.29,279.19L437.91,283.81M437.91,279.19L433.29,283.81" stroke="#603030" stroke-width="1.45" fill="none"/>
<line x1="383.00" y1="307.80" x2="394.00" y2="307.80" stroke="#9a6040" stroke-width="0.8"/>
<circle cx="388.60" cy="307.80" r="2.40" fill="#9a3214" stroke="#581a08" stroke-width="0.6"/>
<text x="396.20" y="310.32" font-size="7" text-anchor="start" font-weight="normal" fill="#1a1a1a" stroke="#1a1a1a" stroke-width="0.18" >0.0001 M</text>
<line x1="383.00" y1="322.20" x2="394.00" y2="322.20" stroke="#7a70e0" stroke-width="0.8"/>
<rect x="386.39" y="319.99" width="4.42" height="4.42" fill="#3a1ec8" stroke="#1e0c80" stroke-width="0.5"/>
<text x="396.20" y="324.72" font-size="7" text-anchor="start" font-weight="normal" fill="#1a1a1a" stroke="#1a1a1a" stroke-width="0.18" >0.0002 M</text>
<line x1="383.00" y1="336.70" x2="394.00" y2="336.70" stroke="#a890d8" stroke-width="0.8"/>
<polygon points="388.60,334.18 391.12,338.72 386.08,338.72" fill="#9068cc" stroke="#44207a" stroke-width="0.6"/>
<text x="396.20" y="339.22" font-size="7" text-anchor="start" font-weight="normal" fill="#1a1a1a" stroke="#1a1a1a" stroke-width="0.18" >0.0004 M</text>
<line x1="383.00" y1="351.20" x2="394.00" y2="351.20" stroke="#80b050" stroke-width="0.8"/>
<polygon points="388.60,348.32 391.48,351.20 388.60,354.08 385.72,351.20" fill="#62a830" stroke="#2a4a10" stroke-width="0.9"/>
<text x="396.20" y="353.72" font-size="7" text-anchor="start" font-weight="normal" fill="#1a1a1a" stroke="#1a1a1a" stroke-width="0.18" >0.0006 M</text>
<line x1="383.00" y1="365.60" x2="394.00" y2="365.60" stroke="#a07070" stroke-width="0.8"/>
<path d="M386.08,363.08L391.12,368.12M391.12,363.08L386.08,368.12" stroke="#603030" stroke-width="1.45" fill="none"/>
<text x="396.20" y="368.12" font-size="7" text-anchor="start" font-weight="normal" fill="#1a1a1a" stroke="#1a1a1a" stroke-width="0.18" >0.0009 M</text>
<rect x="142.00" y="416.50" width="177.80" height="100.30" fill="none" stroke="#7a7a7a" stroke-width="1.25"/>
<line x1="140.00" y1="516.80" x2="142.00" y2="516.80" stroke="#7a7a7a" stroke-width="0.8"/>
<text x="135.70" y="519.30" font-size="7" text-anchor="end" font-weight="normal" fill="#1a1a1a" stroke="#1a1a1a" stroke-width="0.18" >0</text>
<line x1="140.00" y1="504.26" x2="142.00" y2="504.26" stroke="#7a7a7a" stroke-width="0.8"/>
<text x="135.70" y="506.76" font-size="7" text-anchor="end" font-weight="normal" fill="#1a1a1a" stroke="#1a1a1a" stroke-width="0.18" >2</text>
<line x1="140.00" y1="491.72" x2="142.00" y2="491.72" stroke="#7a7a7a" stroke-width="0.8"/>
<text x="135.70" y="494.22" font-size="7" text-anchor="end" font-weight="normal" fill="#1a1a1a" stroke="#1a1a1a" stroke-width="0.18" >4</text>
<line x1="140.00" y1="479.18" x2="142.00" y2="479.18" stroke="#7a7a7a" stroke-width="0.8"/>
<text x="135.70" y="481.68" font-size="7" text-anchor="end" font-weight="normal" fill="#1a1a1a" stroke="#1a1a1a" stroke-width="0.18" >6</text>
<line x1="140.00" y1="466.64" x2="142.00" y2="466.64" stroke="#7a7a7a" stroke-width="0.8"/>
<text x="135.70" y="469.14" font-size="7" text-anchor="end" font-weight="normal" fill="#1a1a1a" stroke="#1a1a1a" stroke-width="0.18" >8</text>
<line x1="140.00" y1="454.10" x2="142.00" y2="454.10" stroke="#7a7a7a" stroke-width="0.8"/>
<text x="135.70" y="456.60" font-size="7" text-anchor="end" font-weight="normal" fill="#1a1a1a" stroke="#1a1a1a" stroke-width="0.18" >10</text>
<line x1="140.00" y1="441.56" x2="142.00" y2="441.56" stroke="#7a7a7a" stroke-width="0.8"/>
<text x="135.70" y="444.06" font-size="7" text-anchor="end" font-weight="normal" fill="#1a1a1a" stroke="#1a1a1a" stroke-width="0.18" >12</text>
<line x1="140.00" y1="429.02" x2="142.00" y2="429.02" stroke="#7a7a7a" stroke-width="0.8"/>
<text x="135.70" y="431.52" font-size="7" text-anchor="end" font-weight="normal" fill="#1a1a1a" stroke="#1a1a1a" stroke-width="0.18" >14</text>
<line x1="140.00" y1="416.48" x2="142.00" y2="416.48" stroke="#7a7a7a" stroke-width="0.8"/>
<text x="135.70" y="418.98" font-size="7" text-anchor="end" font-weight="normal" fill="#1a1a1a" stroke="#1a1a1a" stroke-width="0.18" >16</text>
<line x1="142.00" y1="516.80" x2="142.00" y2="518.80" stroke="#7a7a7a" stroke-width="0.8"/>
<text x="142.00" y="530.10" font-size="7" text-anchor="middle" font-weight="normal" fill="#1a1a1a" stroke="#1a1a1a" stroke-width="0.18" >0</text>
<line x1="186.45" y1="516.80" x2="186.45" y2="518.80" stroke="#7a7a7a" stroke-width="0.8"/>
<text x="186.45" y="530.10" font-size="7" text-anchor="middle" font-weight="normal" fill="#1a1a1a" stroke="#1a1a1a" stroke-width="0.18" >3000</text>
<line x1="230.90" y1="516.80" x2="230.90" y2="518.80" stroke="#7a7a7a" stroke-width="0.8"/>
<text x="230.90" y="530.10" font-size="7" text-anchor="middle" font-weight="normal" fill="#1a1a1a" stroke="#1a1a1a" stroke-width="0.18" >6000</text>
<line x1="275.35" y1="516.80" x2="275.35" y2="518.80" stroke="#7a7a7a" stroke-width="0.8"/>
<text x="275.35" y="530.10" font-size="7" text-anchor="middle" font-weight="normal" fill="#1a1a1a" stroke="#1a1a1a" stroke-width="0.18" >9000</text>
<line x1="319.80" y1="516.80" x2="319.80" y2="518.80" stroke="#7a7a7a" stroke-width="0.8"/>
<text x="319.80" y="530.10" font-size="7" text-anchor="middle" font-weight="normal" fill="#1a1a1a" stroke="#1a1a1a" stroke-width="0.18" >12000</text>
<text x="240.00" y="539.40" font-size="6.9" text-anchor="middle" font-weight="bold" fill="#1a1a1a" stroke="#1a1a1a" stroke-width="0.18" >[MG]<tspan font-size="5" dy="-2.5">−1</tspan><tspan dy="2.5"> (M</tspan><tspan font-size="5" dy="-2.5">−1</tspan><tspan dy="2.5">)</tspan></text>
<text x="0" y="0" transform="translate(121.00,466.00) rotate(-90)" font-size="7.4" text-anchor="middle" font-weight="bold" fill="#1a1a1a" stroke="#1a1a1a" stroke-width="0.18">10<tspan font-size="5" dy="-2.5">4</tspan><tspan dy="2.5"> (</tspan><tspan font-style="italic">k</tspan>″<tspan font-size="5" dy="1.5">obs</tspan><tspan dy="-1.5">) (M</tspan><tspan font-size="5" dy="-2.5">0.5</tspan><tspan dy="2.5"> min</tspan><tspan font-size="5" dy="-2.5">−1</tspan><tspan dy="2.5">)</tspan></text>
<text x="222.80" y="430.20" font-size="8.6" text-anchor="middle" font-weight="bold" fill="#1a1a1a" stroke="#1a1a1a" stroke-width="0.18" >(f)</text>
<line x1="158.46" y1="475.18" x2="290.17" y2="429.65" stroke="#333" stroke-width="0.8"/>
<circle cx="290.17" cy="427.14" r="2.6" fill="#4a1a80"/>
<circle cx="216.08" cy="460.37" r="2.6" fill="#4a1a80"/>
<circle cx="179.04" cy="468.52" r="2.6" fill="#4a1a80"/>
<circle cx="166.70" cy="471.03" r="2.6" fill="#4a1a80"/>
<circle cx="158.46" cy="473.22" r="2.6" fill="#4a1a80"/>
<text x="269.00" y="492.90" font-size="7.4" text-anchor="middle" font-weight="normal" fill="#1a1a1a" stroke="#1a1a1a" stroke-width="0.18" >y = 8.17 × 10<tspan font-size="5" dy="-2.5">−4</tspan><tspan dy="2.5">x + 5.73</tspan></text>
<text x="270.50" y="501.20" font-size="7" text-anchor="middle" font-weight="normal" fill="#1a1a1a" stroke="#1a1a1a" stroke-width="0.18" >R² = 0.973</text>
</svg></body></html>
